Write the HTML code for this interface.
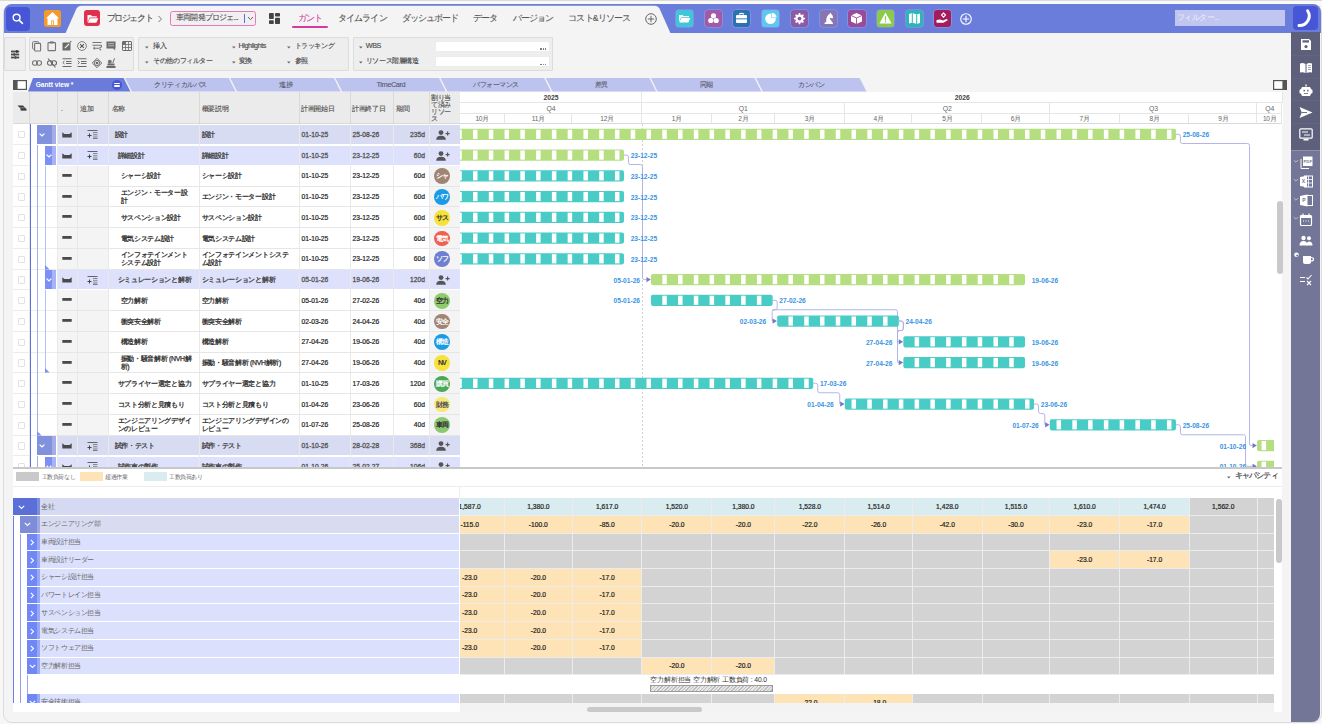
<!DOCTYPE html><html><head><meta charset="utf-8"><style>
*{box-sizing:border-box;margin:0;padding:0}
html,body{width:1322px;height:724px;overflow:hidden}
body{background:#f7f7f7;font-family:"Liberation Sans",sans-serif;position:relative;color:#444}
.a{position:absolute}
.t{position:absolute;white-space:nowrap;line-height:1;transform:translateY(-50%)}
.c{position:absolute;white-space:nowrap;line-height:1;transform:translate(-50%,-50%)}
.r{position:absolute;white-space:nowrap;line-height:1;transform:translate(-100%,-50%)}
svg{position:absolute;overflow:visible}
</style></head><body>
<div class="a" style="left:0.00px;top:0.00px;width:1322.00px;height:1.00px;background:#dadada"></div>
<div class="a" style="left:0.00px;top:1.00px;width:1322.00px;height:3.00px;background:#f9f9f9"></div>
<div class="a" style="left:3.00px;top:4.00px;width:1318.50px;height:718.80px;border:1px solid #dcdcdc;border-radius:9px;background:#f4f4f4"></div>
<div class="a" style="left:3.50px;top:4.00px;width:1317.00px;height:28.50px;background:#6b7ddb;border-radius:8px 8px 0 0"></div>
<svg class="a" style="left:0;top:0" width="1322" height="40"><path d="M65.5,33.2 L76.5,8.5 Q78,5.8 81,5.8 L655,5.8 Q658,5.8 659.5,8.5 L670.5,33.2 Z" fill="#f4f4f4"/></svg>
<div class="a" style="left:6.00px;top:6.50px;width:23.50px;height:24.00px;background:#4656d6;border-radius:4px"></div>
<svg style="left:12px;top:12.5px" width="12" height="12" viewBox="0 0 12 12"><circle cx="4.6" cy="4.6" r="3.4" fill="none" stroke="#fff" stroke-width="1.4"/><line x1="7.1" y1="7.1" x2="10.4" y2="10.4" stroke="#fff" stroke-width="1.6" stroke-linecap="round"/></svg>
<div class="a" style="left:44.00px;top:10.00px;width:16.50px;height:17.00px;background:#f39a2a;border-radius:2.5px"></div>
<svg style="left:44px;top:10px" width="17" height="17" viewBox="0 0 17 17"><path d="M8.5,2 L15,8.2 L13.5,8.2 L13.5,15 L3.5,15 L3.5,8.2 L2,8.2 Z" fill="#fff"/><rect x="7" y="10.5" width="3" height="4.5" fill="#f39a2a"/><rect x="7.8" y="11.3" width="1.4" height="3.7" fill="#fff"/></svg>
<div class="a" style="left:83.70px;top:9.80px;width:16.60px;height:16.70px;background:#e0304e;border-radius:3px"></div>
<svg style="left:85.5px;top:11.5px" width="13" height="13" viewBox="0 0 13 13"><path d="M1.5,3 L5,3 L6,4.2 L10.8,4.2 L10.8,5.6 L3.6,5.6 L1.5,10.5 Z" fill="#fff"/><path d="M3.9,6.3 L12.3,6.3 L10.3,10.8 L1.8,10.8 Z" fill="#fff"/></svg>
<div class="t" style="left:106.60px;top:17.60px;font-size:9px;letter-spacing:-1.4px;color:#555;-webkit-text-stroke:0.15px currentColor">プロジェクト</div>
<svg style="left:157px;top:15px" width="6" height="8" viewBox="0 0 6 8"><path d="M1.5,1 L4.5,4 L1.5,7" fill="none" stroke="#777" stroke-width="1"/></svg>
<div class="a" style="left:169.50px;top:11.00px;width:86.00px;height:14.70px;border:1px solid #e07ab8;border-radius:2.5px;background:#f1eff1"></div>
<div class="t" style="left:176.00px;top:17.80px;font-size:8.2px;letter-spacing:-0.8px;color:#555;-webkit-text-stroke:0.1px currentColor">車両開発プロジェ...</div>
<div class="a" style="left:243.50px;top:13.50px;width:1.00px;height:9.50px;background:#5870d8"></div>
<svg style="left:246.5px;top:15.5px" width="7" height="5" viewBox="0 0 7 5"><path d="M1,1 L3.5,3.6 L6,1" fill="none" stroke="#666" stroke-width="1"/></svg>
<svg style="left:269px;top:13px" width="11" height="11" viewBox="0 0 11 11"><rect x="0" y="0" width="4.8" height="6" rx="0.8" fill="#444"/><rect x="6" y="0" width="5" height="3.6" rx="0.8" fill="#444"/><rect x="0" y="7.2" width="4.8" height="3.8" rx="0.8" fill="#444"/><rect x="6" y="4.8" width="5" height="6.2" rx="0.8" fill="#444"/></svg>
<div class="t" style="left:297.90px;top:18.10px;font-size:8.6px;letter-spacing:-0.9px;color:#d63a9c;-webkit-text-stroke:0.1px currentColor">ガント</div>
<div class="a" style="left:292.00px;top:26.40px;width:35.70px;height:1.90px;background:#d63a9c;border-radius:1px"></div>
<div class="t" style="left:338.00px;top:18.10px;font-size:8.6px;letter-spacing:-0.9px;color:#555;-webkit-text-stroke:0.1px currentColor">タイムライン</div>
<div class="t" style="left:401.80px;top:18.10px;font-size:8.6px;letter-spacing:-0.9px;color:#555;-webkit-text-stroke:0.1px currentColor">ダッシュボード</div>
<div class="t" style="left:473.00px;top:18.10px;font-size:8.6px;letter-spacing:-0.9px;color:#555;-webkit-text-stroke:0.1px currentColor">データ</div>
<div class="t" style="left:512.50px;top:18.10px;font-size:8.6px;letter-spacing:-0.9px;color:#555;-webkit-text-stroke:0.1px currentColor">バージョン</div>
<div class="t" style="left:568.40px;top:18.10px;font-size:8.6px;letter-spacing:-0.9px;color:#555;-webkit-text-stroke:0.1px currentColor">コスト&amp;リソース</div>
<svg style="left:645.3px;top:12.8px" width="12" height="12" viewBox="0 0 12 12"><circle cx="6" cy="6" r="5.3" fill="none" stroke="#666" stroke-width="1"/><path d="M6,2.8 V9.2 M2.8,6 H9.2" stroke="#666" stroke-width="1"/></svg>
<div class="a" style="left:675.5px;top:9.7px;width:17.3px;height:17.3px;background:#40c6da;border-radius:3px;box-shadow:0 0 0 0.6px rgba(255,255,255,.25)"></div>
<svg style="left:675.5px;top:9.7px" width="17" height="17" viewBox="0 0 17 17"><path d="M3,5 L6.5,5 L7.5,6 L13,6 L13,7.2 L5,7.2 L3,12 Z" fill="#fff"/><path d="M5.3,8 L14.2,8 L12.4,12.4 L3.4,12.4 Z" fill="#fff"/></svg>
<div class="a" style="left:704.5px;top:9.7px;width:17.3px;height:17.3px;background:#a25aa6;border-radius:3px;box-shadow:0 0 0 0.6px rgba(255,255,255,.25)"></div>
<svg style="left:704.5px;top:9.7px" width="17" height="17" viewBox="0 0 17 17"><circle cx="8.5" cy="5.8" r="2.6" fill="#fff"/><circle cx="5.8" cy="10.5" r="2.6" fill="#fff"/><circle cx="11.2" cy="10.5" r="2.6" fill="#fff"/></svg>
<div class="a" style="left:733px;top:9.7px;width:17.3px;height:17.3px;background:#2a72b2;border-radius:3px;box-shadow:0 0 0 0.6px rgba(255,255,255,.25)"></div>
<svg style="left:733px;top:9.7px" width="17" height="17" viewBox="0 0 17 17"><path d="M6,4.2 Q8.5,2.6 11,4.2" fill="none" stroke="#fff" stroke-width="1.2"/><rect x="3" y="5" width="11" height="8" rx="1" fill="#fff"/><rect x="3" y="8.4" width="11" height="0.9" fill="#2a72b2"/></svg>
<div class="a" style="left:762px;top:9.7px;width:17.3px;height:17.3px;background:#5cc8f2;border-radius:3px;box-shadow:0 0 0 0.6px rgba(255,255,255,.25)"></div>
<svg style="left:762px;top:9.7px" width="17" height="17" viewBox="0 0 17 17"><circle cx="8.5" cy="8.8" r="5.3" fill="#fff"/><path d="M9.3,3 A5,5 0 0 1 14.3,8 L9.3,8 Z" fill="#5cc8f2"/><path d="M9.8,2.8 A5.3,5.3 0 0 1 14.6,7.6 L9.8,7.6 Z" fill="#fff"/></svg>
<div class="a" style="left:791px;top:9.7px;width:17.3px;height:17.3px;background:#8d5aa6;border-radius:3px;box-shadow:0 0 0 0.6px rgba(255,255,255,.25)"></div>
<svg style="left:791px;top:9.7px" width="17" height="17" viewBox="0 0 17 17"><path d="M12.60,7.68 L14.05,7.87 L14.05,9.33 L12.60,9.52 L12.05,10.85 L12.94,12.01 L11.91,13.04 L10.75,12.15 L9.42,12.70 L9.23,14.15 L7.77,14.15 L7.58,12.70 L6.25,12.15 L5.09,13.04 L4.06,12.01 L4.95,10.85 L4.40,9.52 L2.95,9.33 L2.95,7.87 L4.40,7.68 L4.95,6.35 L4.06,5.19 L5.09,4.16 L6.25,5.05 L7.58,4.50 L7.77,3.05 L9.23,3.05 L9.42,4.50 L10.75,5.05 L11.91,4.16 L12.94,5.19 L12.05,6.35 Z" fill="#fff"/><circle cx="8.5" cy="8.6" r="1.9" fill="#8d5aa6"/></svg>
<div class="a" style="left:819.5px;top:9.7px;width:17.3px;height:17.3px;background:#8876b4;border-radius:3px;box-shadow:0 0 0 0.6px rgba(255,255,255,.25)"></div>
<svg style="left:819.5px;top:9.7px" width="17" height="17" viewBox="0 0 17 17"><path transform="translate(17.5,0) scale(-1,1)" d="M4.5,14 H13 L12.6,12.2 H11.3 Q11.6,9.2 10.6,7 Q9.6,4.6 7.6,3.4 L7.2,2.4 L6.4,3.8 Q4.8,4.8 4.4,7.4 L5.2,8.6 L7.6,7.8 Q8.4,8.6 6.4,10.4 Q5.6,11.2 5.6,12.2 H4.9 Z" fill="#fff"/></svg>
<div class="a" style="left:848.4px;top:9.7px;width:17.3px;height:17.3px;background:#9a4a9a;border-radius:3px;box-shadow:0 0 0 0.6px rgba(255,255,255,.25)"></div>
<svg style="left:848.4px;top:9.7px" width="17" height="17" viewBox="0 0 17 17"><path d="M8.5,3 L14,5.5 L14,11.5 L8.5,14 L3,11.5 L3,5.5 Z" fill="#fff"/><path d="M3,5.5 L8.5,8 L14,5.5 M8.5,8 V14" fill="none" stroke="#9a4a9a" stroke-width="0.9"/></svg>
<div class="a" style="left:877px;top:9.7px;width:17.3px;height:17.3px;background:#8cca4c;border-radius:3px;box-shadow:0 0 0 0.6px rgba(255,255,255,.25)"></div>
<svg style="left:877px;top:9.7px" width="17" height="17" viewBox="0 0 17 17"><path d="M8.5,2.6 L14.6,13.4 L2.4,13.4 Z" fill="#fff"/><rect x="7.9" y="6.2" width="1.2" height="4.2" fill="#8cca4c"/><rect x="7.9" y="11.2" width="1.2" height="1.2" fill="#8cca4c"/></svg>
<div class="a" style="left:905.5px;top:9.7px;width:17.3px;height:17.3px;background:#2db6ba;border-radius:3px;box-shadow:0 0 0 0.6px rgba(255,255,255,.25)"></div>
<svg style="left:905.5px;top:9.7px" width="17" height="17" viewBox="0 0 17 17"><path d="M3,4 L6.3,3 L10.7,4.5 L14,3.5 L14,13 L10.7,14 L6.3,12.5 L3,13.5 Z" fill="#fff"/><path d="M6.3,3 V12.5 M10.7,4.5 V14" stroke="#2db6ba" stroke-width="1"/></svg>
<div class="a" style="left:934px;top:9.7px;width:17.3px;height:17.3px;background:#a31c5c;border-radius:3px;box-shadow:0 0 0 0.6px rgba(255,255,255,.25)"></div>
<svg style="left:934px;top:9.7px" width="17" height="17" viewBox="0 0 17 17"><path d="M2.5,10 L6,9.5 L9,10.5 L12.5,9 L14,10 L9.5,12.8 L2.5,12.8 Z" fill="#fff"/><path d="M9.5,3 L11.5,5 L9.5,7.2 L7.5,5 Z" fill="none" stroke="#fff" stroke-width="1.1"/></svg>
<svg style="left:959.8px;top:12.8px" width="12" height="12" viewBox="0 0 12 12"><circle cx="6" cy="6" r="5.3" fill="none" stroke="#fff" stroke-width="1.1"/><path d="M6,2.8 V9.2 M2.8,6 H9.2" stroke="#fff" stroke-width="1.1"/></svg>
<div class="a" style="left:1175.00px;top:10.40px;width:110.40px;height:15.60px;background:#c0c6f0"></div>
<div class="t" style="left:1177.00px;top:18.40px;font-size:7.8px;letter-spacing:-0.6px;color:#eef0fb">フィルター...</div>
<div class="a" style="left:1293.30px;top:6.00px;width:24.70px;height:24.00px;background:#4656d6;border-radius:4px"></div>
<svg style="left:1296px;top:8.3px" width="20" height="20" viewBox="0 0 20 20"><path d="M11.6,2.8 A9.6,9.6 0 0 1 3,17.6" fill="none" stroke="#fff" stroke-width="3" stroke-linecap="round"/></svg>
<div class="a" style="left:1291.00px;top:32.40px;width:29.00px;height:118.00px;background:#5d5f7b"></div>
<div class="a" style="left:1291.00px;top:150.40px;width:29.00px;height:572.00px;background:#737696;border-radius:0 0 8px 0"></div>
<div class="a" style="left:1291.00px;top:149.60px;width:29.00px;height:1.20px;background:#8e90ac"></div>
<div class="a" style="left:1291.00px;top:54.50px;width:29.00px;height:0.80px;background:#626480"></div>
<div class="a" style="left:1291.00px;top:77.50px;width:29.00px;height:0.80px;background:#626480"></div>
<div class="a" style="left:1291.00px;top:100.00px;width:29.00px;height:0.80px;background:#626480"></div>
<div class="a" style="left:1291.00px;top:122.50px;width:29.00px;height:0.80px;background:#626480"></div>
<svg style="left:1298.5px;top:37.5px" width="14" height="13" viewBox="0 0 14 13"><path d="M2,1 L10,1 L12,3 L12,12 L2,12 Z" fill="#fff"/><rect x="3.5" y="2.3" width="6.5" height="2.2" fill="#5d5f7b"/><circle cx="7" cy="8.6" r="1.6" fill="#5d5f7b"/></svg>
<svg style="left:1298.5px;top:60.5px" width="14" height="13" viewBox="0 0 14 13"><path d="M1,2.5 Q4,1.5 6.5,3 L6.5,12 Q4,10.8 1,11.5 Z" fill="#fff"/><path d="M7.5,3 Q10,1.5 13,2.5 L13,11.5 Q10,10.8 7.5,12 Z" fill="#fff"/><path d="M9,4.5 H11.8 M9,6.5 H11.8 M9,8.5 H11.8" stroke="#5d5f7b" stroke-width="0.6"/></svg>
<svg style="left:1298.5px;top:83.5px" width="14" height="13" viewBox="0 0 14 13"><rect x="6.3" y="0.5" width="1.4" height="2" fill="#fff"/><path d="M3,3 L11,3 L12,5 L13.5,6 L13.5,9 L12,9.8 L11,12 L3,12 L2,9.8 L0.5,9 L0.5,6 L2,5 Z" fill="#fff"/><rect x="4.5" y="5.8" width="1.4" height="1.6" fill="#5d5f7b"/><rect x="8.1" y="5.8" width="1.4" height="1.6" fill="#5d5f7b"/><rect x="5" y="9" width="4" height="0.8" fill="#5d5f7b"/></svg>
<svg style="left:1298.5px;top:106px" width="14" height="13" viewBox="0 0 14 13"><path d="M0.5,1 L13.5,6.5 L0.5,12 L2.8,6.5 Z" fill="#fff"/><path d="M2.8,6.5 H8" stroke="#5d5f7b" stroke-width="0.9"/></svg>
<svg style="left:1298.5px;top:128px" width="14" height="13" viewBox="0 0 14 13"><rect x="0.8" y="0.8" width="12.4" height="9.4" rx="1" fill="none" stroke="#fff" stroke-width="1.2"/><path d="M3,4 H9 M5,7 H11" stroke="#fff" stroke-width="1"/><rect x="4.5" y="11" width="5" height="1.5" fill="#fff"/></svg>
<svg style="left:1298.5px;top:155.5px" width="15" height="13" viewBox="0 0 15 13"><path d="M2,3 V12.5 H10" fill="none" stroke="#fff" stroke-width="1"/><rect x="4" y="0.5" width="9.5" height="9.5" fill="#fff"/><text x="8.75" y="7" font-size="4.2" font-family="Liberation Sans" font-weight="bold" text-anchor="middle" fill="#737696">PDF</text></svg>
<svg style="left:1292.5px;top:158.5px" width="6" height="5" viewBox="0 0 6 5"><path d="M0.8,1 L3,3.2 L5.2,1" fill="none" stroke="#c9cbe0" stroke-width="0.8"/></svg>
<svg style="left:1298.5px;top:175px" width="15" height="13" viewBox="0 0 15 13"><rect x="5.5" y="1" width="8" height="11" fill="none" stroke="#fff" stroke-width="1"/><path d="M5.5,4.5 H13.5 M5.5,8 H13.5 M9.5,1 V12" stroke="#fff" stroke-width="0.8"/><path d="M1,2 L8,0.8 L8,12.2 L1,11 Z" fill="#fff"/><text x="4.5" y="8.3" font-size="5" font-family="Liberation Sans" font-weight="bold" text-anchor="middle" fill="#737696">X</text></svg>
<svg style="left:1292.5px;top:178px" width="6" height="5" viewBox="0 0 6 5"><path d="M0.8,1 L3,3.2 L5.2,1" fill="none" stroke="#c9cbe0" stroke-width="0.8"/></svg>
<svg style="left:1298.5px;top:193.5px" width="15" height="13" viewBox="0 0 15 13"><rect x="6" y="1.5" width="7.5" height="10" fill="none" stroke="#fff" stroke-width="1"/><path d="M1,2 L8.5,0.6 L8.5,12.4 L1,11 Z" fill="#fff"/><text x="4.8" y="8.3" font-size="5" font-family="Liberation Sans" font-weight="bold" text-anchor="middle" fill="#737696">P</text></svg>
<svg style="left:1292.5px;top:196.5px" width="6" height="5" viewBox="0 0 6 5"><path d="M0.8,1 L3,3.2 L5.2,1" fill="none" stroke="#c9cbe0" stroke-width="0.8"/></svg>
<svg style="left:1298.5px;top:213px" width="15" height="13" viewBox="0 0 15 13"><rect x="1.5" y="2.5" width="11" height="10" rx="1" fill="none" stroke="#fff" stroke-width="1.2"/><rect x="1.5" y="2.5" width="11" height="2.5" fill="#fff"/><path d="M4,0.5 V3 M10,0.5 V3" stroke="#fff" stroke-width="1.2"/><path d="M4,8 H5 M6.5,8 H7.5 M9,8 H10" stroke="#fff" stroke-width="1"/></svg>
<svg style="left:1292.5px;top:216px" width="6" height="5" viewBox="0 0 6 5"><path d="M0.8,1 L3,3.2 L5.2,1" fill="none" stroke="#c9cbe0" stroke-width="0.8"/></svg>
<svg style="left:1298.5px;top:235px" width="15" height="13" viewBox="0 0 15 13"><circle cx="4.5" cy="3" r="2.2" fill="#fff"/><circle cx="10" cy="3.3" r="2" fill="#fff"/><path d="M0.5,10.5 Q0.5,6 4.5,6 Q8.5,6 8.5,10.5 Z" fill="#fff"/><path d="M7.5,10.5 Q7.8,6.4 10,6.4 Q13.5,6.4 13.5,10.5 Z" fill="#fff"/></svg>
<svg style="left:1298.5px;top:252px" width="15" height="13" viewBox="0 0 15 13"><path d="M4,4 H12 V10 Q12,12 10,12 H6 Q4,12 4,10 Z" fill="#fff"/><path d="M12,5.5 Q14.5,5.5 14.5,7.3 Q14.5,9 12,9" fill="none" stroke="#fff" stroke-width="1.2"/><circle cx="-2.5" cy="2.8" r="2.3" fill="#fff"/><circle cx="-1.8" cy="3.6" r="1" fill="#737696"/></svg>
<svg style="left:1298.5px;top:274px" width="15" height="13" viewBox="0 0 15 13"><path d="M1,3.5 H6 M1,7.5 H6" stroke="#fff" stroke-width="1.1"/><path d="M7.5,3.5 L9,5 L12.5,1" fill="none" stroke="#fff" stroke-width="1.1"/><path d="M8,7 L12,11 M12,7 L8,11" stroke="#fff" stroke-width="1.1"/></svg>
<div class="a" style="left:3.60px;top:37.30px;width:22.90px;height:34.20px;border:1px solid #dcdcdc;background:#efeeef;border-radius:1px"></div>
<div class="a" style="left:29.20px;top:37.30px;width:104.80px;height:34.10px;border:1px solid #dcdcdc;background:#efeeef;border-radius:1px"></div>
<div class="a" style="left:137.50px;top:37.40px;width:211.80px;height:33.90px;border:1px solid #dcdcdc;background:#efeeef;border-radius:1px"></div>
<div class="a" style="left:352.50px;top:37.40px;width:200.80px;height:33.90px;border:1px solid #dcdcdc;background:#efeeef;border-radius:1px"></div>
<svg style="left:10.8px;top:49.8px" width="9" height="9" viewBox="0 0 9 9"><rect x="0" y="0.6" width="8.2" height="1.8" fill="#4a4a4a"/><rect x="0" y="3.6" width="8.2" height="1.8" fill="#4a4a4a"/><rect x="0" y="6.6" width="8.2" height="1.8" fill="#4a4a4a"/><rect x="5.2" y="0" width="1.4" height="3" fill="#333"/><rect x="2.6" y="3" width="1.4" height="3" fill="#555"/><rect x="3.8" y="6" width="1.4" height="3" fill="#555"/></svg>
<svg style="left:31.700000000000003px;top:40.8px" width="10" height="10" viewBox="0 0 10 10"><rect x="0.6" y="0.6" width="6" height="7.5" rx="0.8" fill="none" stroke="#777" stroke-width="1"/><rect x="2.6" y="2.4" width="6" height="7.6" rx="0.8" fill="#efeeef" stroke="#747474" stroke-width="1.1"/></svg>
<svg style="left:47px;top:40.8px" width="10" height="10" viewBox="0 0 10 10"><rect x="1" y="1.6" width="7.5" height="8" rx="0.6" fill="none" stroke="#747474" stroke-width="1.1"/><rect x="3" y="0.4" width="3.5" height="2" fill="#747474"/></svg>
<svg style="left:61.7px;top:40.8px" width="10" height="10" viewBox="0 0 10 10"><rect x="0.5" y="1.5" width="8" height="8" rx="0.5" fill="#6a6a6a"/><path d="M2.8,7.2 L7,3" stroke="#efeeef" stroke-width="1.2"/><path d="M7.8,1.4 L9.3,0.3" stroke="#6a6a6a" stroke-width="1.1"/></svg>
<svg style="left:76.7px;top:40.8px" width="10" height="10" viewBox="0 0 10 10"><circle cx="5" cy="5" r="4.4" fill="none" stroke="#747474" stroke-width="0.9"/><path d="M3.1,3.1 L6.9,6.9 M6.9,3.1 L3.1,6.9" stroke="#5a5a5a" stroke-width="1.15"/></svg>
<svg style="left:91.7px;top:40.8px" width="10" height="10" viewBox="0 0 10 10"><path d="M0.5,1.5 H9.5 M0.5,4.2 H9.5" stroke="#747474" stroke-width="1.1"/><path d="M9.5,4.2 Q9.8,7.2 6.5,7.2 H1.5" fill="none" stroke="#747474" stroke-width="1.1"/><path d="M3,5.8 L1.3,7.2 L3,8.6" fill="none" stroke="#747474" stroke-width="0.9"/><rect x="7.6" y="8" width="1.6" height="1.3" fill="#747474"/></svg>
<svg style="left:106.3px;top:40.8px" width="10" height="10" viewBox="0 0 10 10"><path d="M0.5,0.5 H9.5 V7.5 H8.8 L9.5,9.5 L7,7.5 H0.5 Z" fill="#6a6a6a"/><rect x="2" y="2.2" width="6" height="1" fill="#bbb"/><rect x="2" y="4.3" width="6" height="1" fill="#bbb"/></svg>
<svg style="left:121.7px;top:40.8px" width="10" height="10" viewBox="0 0 10 10"><rect x="0.5" y="0.5" width="9" height="9" rx="0.6" fill="none" stroke="#6a6a6a" stroke-width="1"/><rect x="0.5" y="0.5" width="3" height="3" fill="#6a6a6a"/><path d="M3.5,0.5 V9.5 M6.5,0.5 V9.5 M0.5,3.5 H9.5 M0.5,6.5 H9.5" stroke="#6a6a6a" stroke-width="0.8"/></svg>
<svg style="left:31.700000000000003px;top:58px" width="10" height="10" viewBox="0 0 10 10"><rect x="0.5" y="2.8" width="5" height="4.4" rx="2.2" fill="none" stroke="#777" stroke-width="1.1"/><rect x="4.5" y="2.8" width="5" height="4.4" rx="2.2" fill="none" stroke="#777" stroke-width="1.1"/></svg>
<svg style="left:47px;top:58px" width="10" height="10" viewBox="0 0 10 10"><rect x="0.5" y="2.8" width="5" height="4.4" rx="2.2" fill="none" stroke="#6a6a6a" stroke-width="1.1"/><rect x="4.5" y="2.8" width="5" height="4.4" rx="2.2" fill="none" stroke="#6a6a6a" stroke-width="1.1"/><path d="M1,0.5 L8.5,9.5" stroke="#6a6a6a" stroke-width="1.1"/></svg>
<svg style="left:61.7px;top:58px" width="10" height="10" viewBox="0 0 10 10"><path d="M0.5,0.8 H9.5 M4,3.5 H9.5 M4,5.5 H9.5 M0.5,8.5 H9.5" stroke="#6a6a6a" stroke-width="1.1"/><path d="M2.5,3 L0.8,4.5 L2.5,6" fill="none" stroke="#6a6a6a" stroke-width="1"/></svg>
<svg style="left:76.7px;top:58px" width="10" height="10" viewBox="0 0 10 10"><path d="M0.5,0.8 H9.5 M4,3.5 H9.5 M4,5.5 H9.5 M0.5,8.5 H9.5" stroke="#6a6a6a" stroke-width="1.1"/><path d="M0.8,3 L2.5,4.5 L0.8,6" fill="none" stroke="#6a6a6a" stroke-width="1"/></svg>
<svg style="left:91.7px;top:58px" width="10" height="10" viewBox="0 0 10 10"><path d="M5,0.3 L9.7,5 L5,9.7 L0.3,5 Z" fill="none" stroke="#6a6a6a" stroke-width="1"/><circle cx="5" cy="5" r="2.6" fill="none" stroke="#6a6a6a" stroke-width="0.9"/><circle cx="5" cy="5" r="1.3" fill="#6a6a6a"/></svg>
<svg style="left:106.3px;top:58px" width="10" height="10" viewBox="0 0 10 10"><rect x="0.5" y="8" width="9" height="2" fill="#6a6a6a"/><rect x="1.5" y="5.5" width="7" height="2" fill="#6a6a6a"/><circle cx="3.8" cy="3.8" r="2" fill="#747474"/><path d="M6.8,5 L8.5,0.3" stroke="#6a6a6a" stroke-width="1"/></svg>
<svg style="left:145.1px;top:46.3px" width="4" height="3" viewBox="0 0 4 3"><path d="M0,0.5 H3.6 L1.8,2.6 Z" fill="#666"/></svg>
<div class="t" style="left:153.30px;top:46.40px;font-size:7.2px;letter-spacing:-0.4px;color:#4a4a4a;-webkit-text-stroke:0.15px currentColor">挿入</div>
<svg style="left:145.1px;top:61.3px" width="4" height="3" viewBox="0 0 4 3"><path d="M0,0.5 H3.6 L1.8,2.6 Z" fill="#666"/></svg>
<div class="t" style="left:153.30px;top:61.40px;font-size:7.2px;letter-spacing:-0.4px;color:#4a4a4a;-webkit-text-stroke:0.15px currentColor">その他のフィルター</div>
<svg style="left:231.7px;top:46.3px" width="4" height="3" viewBox="0 0 4 3"><path d="M0,0.5 H3.6 L1.8,2.6 Z" fill="#666"/></svg>
<div class="t" style="left:238.50px;top:46.40px;font-size:7.2px;letter-spacing:-0.4px;color:#4a4a4a;-webkit-text-stroke:0.15px currentColor">Highlights</div>
<svg style="left:231.7px;top:61.3px" width="4" height="3" viewBox="0 0 4 3"><path d="M0,0.5 H3.6 L1.8,2.6 Z" fill="#666"/></svg>
<div class="t" style="left:238.50px;top:61.40px;font-size:7.2px;letter-spacing:-0.4px;color:#4a4a4a;-webkit-text-stroke:0.15px currentColor">変換</div>
<svg style="left:286.5px;top:46.3px" width="4" height="3" viewBox="0 0 4 3"><path d="M0,0.5 H3.6 L1.8,2.6 Z" fill="#666"/></svg>
<div class="t" style="left:294.70px;top:46.40px;font-size:7.2px;letter-spacing:-0.4px;color:#4a4a4a;-webkit-text-stroke:0.15px currentColor">トラッキング</div>
<svg style="left:286.5px;top:61.3px" width="4" height="3" viewBox="0 0 4 3"><path d="M0,0.5 H3.6 L1.8,2.6 Z" fill="#666"/></svg>
<div class="t" style="left:294.70px;top:61.40px;font-size:7.2px;letter-spacing:-0.4px;color:#4a4a4a;-webkit-text-stroke:0.15px currentColor">参照</div>
<svg style="left:359.3px;top:46.3px" width="4" height="3" viewBox="0 0 4 3"><path d="M0,0.5 H3.6 L1.8,2.6 Z" fill="#666"/></svg>
<div class="t" style="left:365.80px;top:46.40px;font-size:7.2px;letter-spacing:-0.4px;color:#4a4a4a;-webkit-text-stroke:0.15px currentColor">WBS</div>
<svg style="left:359.3px;top:61.3px" width="4" height="3" viewBox="0 0 4 3"><path d="M0,0.5 H3.6 L1.8,2.6 Z" fill="#666"/></svg>
<div class="t" style="left:365.80px;top:61.40px;font-size:7.2px;letter-spacing:-0.4px;color:#4a4a4a;-webkit-text-stroke:0.15px currentColor">リソース階層構造</div>
<div class="a" style="left:434.70px;top:40.80px;width:115.30px;height:11.20px;background:#fff;border:1px solid #ececec"></div>
<div class="a" style="left:434.70px;top:55.80px;width:115.30px;height:11.70px;background:#fff;border:1px solid #ececec"></div>
<div class="a" style="left:540.30px;top:48.40px;width:1.30px;height:1.30px;background:#666;border-radius:50%"></div>
<div class="a" style="left:542.60px;top:48.40px;width:1.30px;height:1.30px;background:#666;border-radius:50%"></div>
<div class="a" style="left:544.90px;top:48.40px;width:1.30px;height:1.30px;background:#666;border-radius:50%"></div>
<div class="a" style="left:540.30px;top:63.60px;width:1.30px;height:1.30px;background:#666;border-radius:50%"></div>
<div class="a" style="left:542.60px;top:63.60px;width:1.30px;height:1.30px;background:#666;border-radius:50%"></div>
<div class="a" style="left:544.90px;top:63.60px;width:1.30px;height:1.30px;background:#666;border-radius:50%"></div>
<svg style="left:13px;top:80px" width="14" height="10" viewBox="0 0 14 10"><rect x="0.6" y="0.6" width="12.8" height="8.8" fill="#fff" stroke="#555" stroke-width="1.2"/><rect x="0.6" y="0.6" width="4" height="8.8" fill="#555"/></svg>
<svg style="left:1273px;top:80px" width="14" height="10" viewBox="0 0 14 10"><rect x="0.6" y="0.6" width="12.8" height="8.8" fill="#fff" stroke="#555" stroke-width="1.2"/><rect x="9.4" y="0.6" width="4" height="8.8" fill="#555"/></svg>
<svg class="a" style="left:0;top:0" width="1322" height="100"><path d="M28,91.6 L33,78 L123.6,78 L130.4,91.6 Z" fill="#6a7bd9"/><path d="M125.10,78 L228.75,78 L235.55,91.6 L131.90,91.6 Z" fill="#bcc3ef"/><path d="M230.25,78 L333.90,78 L340.70,91.6 L237.05,91.6 Z" fill="#bcc3ef"/><path d="M335.40,78 L439.05,78 L445.85,91.6 L342.20,91.6 Z" fill="#bcc3ef"/><path d="M440.55,78 L544.20,78 L551.00,91.6 L447.35,91.6 Z" fill="#bcc3ef"/><path d="M545.70,78 L649.35,78 L656.15,91.6 L552.50,91.6 Z" fill="#bcc3ef"/><path d="M650.85,78 L754.50,78 L761.30,91.6 L657.65,91.6 Z" fill="#bcc3ef"/><path d="M756.00,78 L859.65,78 L866.45,91.6 L762.80,91.6 Z" fill="#bcc3ef"/></svg>
<div class="t" style="left:35.70px;top:84.80px;font-size:6.6px;color:#fff;font-weight:bold">Gantt view *</div>
<div class="a" style="left:112.30px;top:79.80px;width:10.00px;height:10.00px;background:#4656d6;border-radius:50%"></div>
<div class="a" style="left:114.30px;top:82.60px;width:6.00px;height:1.50px;background:#fff;border-radius:1px"></div>
<div class="a" style="left:114.30px;top:85.40px;width:6.00px;height:1.50px;background:#fff;border-radius:1px"></div>
<div class="c" style="left:180.58px;top:84.80px;font-size:7.4px;letter-spacing:-0.45px;color:#5a5a68;-webkit-text-stroke:0.1px currentColor">クリティカルパス</div>
<div class="c" style="left:285.72px;top:84.80px;font-size:7.4px;letter-spacing:-0.45px;color:#5a5a68;-webkit-text-stroke:0.1px currentColor">進捗</div>
<div class="c" style="left:390.87px;top:84.80px;font-size:7.4px;letter-spacing:-0.45px;color:#5a5a68;-webkit-text-stroke:0.1px currentColor">TimeCard</div>
<div class="c" style="left:496.03px;top:84.80px;font-size:7.4px;letter-spacing:-0.45px;color:#5a5a68;-webkit-text-stroke:0.1px currentColor">パフォーマンス</div>
<div class="c" style="left:601.18px;top:84.80px;font-size:7.4px;letter-spacing:-0.45px;color:#5a5a68;-webkit-text-stroke:0.1px currentColor">差異</div>
<div class="c" style="left:706.33px;top:84.80px;font-size:7.4px;letter-spacing:-0.45px;color:#5a5a68;-webkit-text-stroke:0.1px currentColor">同期</div>
<div class="c" style="left:811.48px;top:84.80px;font-size:7.4px;letter-spacing:-0.45px;color:#5a5a68;-webkit-text-stroke:0.1px currentColor">カンバン</div>
<div class="a" style="left:12.70px;top:91.80px;width:1269.80px;height:375.60px;background:#fff"></div>
<div class="a" style="left:12.70px;top:91.80px;width:447.30px;height:32.60px;background:#ebebeb;border-bottom:1px solid #d9d9d9"></div>
<div class="a" style="left:29.20px;top:91.80px;width:0.90px;height:32.60px;background:#d9d9d9"></div>
<div class="a" style="left:57.00px;top:91.80px;width:0.90px;height:32.60px;background:#d9d9d9"></div>
<div class="a" style="left:77.20px;top:91.80px;width:0.90px;height:32.60px;background:#d9d9d9"></div>
<div class="a" style="left:108.40px;top:91.80px;width:0.90px;height:32.60px;background:#d9d9d9"></div>
<div class="a" style="left:199.00px;top:91.80px;width:0.90px;height:32.60px;background:#d9d9d9"></div>
<div class="a" style="left:298.50px;top:91.80px;width:0.90px;height:32.60px;background:#d9d9d9"></div>
<div class="a" style="left:349.70px;top:91.80px;width:0.90px;height:32.60px;background:#d9d9d9"></div>
<div class="a" style="left:393.00px;top:91.80px;width:0.90px;height:32.60px;background:#d9d9d9"></div>
<div class="a" style="left:428.80px;top:91.80px;width:0.90px;height:32.60px;background:#d9d9d9"></div>
<svg style="left:16.5px;top:104.5px" width="10" height="7" viewBox="0 0 10 7"><path d="M0.5,0.6 H6 L7.5,2.2 H2.2 Z" fill="#3a3a3a"/><path d="M2.2,2.2 L3.6,4 H9.5 L8,2.2 Z" fill="#555"/><rect x="3.6" y="4" width="5.9" height="1.6" fill="#3a3a3a"/></svg>
<div class="t" style="left:61.00px;top:108.00px;font-size:7px;letter-spacing:-0.3px;color:#555;-webkit-text-stroke:0.15px currentColor">.</div>
<div class="t" style="left:80.00px;top:107.80px;font-size:7px;letter-spacing:-0.3px;color:#555;-webkit-text-stroke:0.15px currentColor">追加</div>
<div class="t" style="left:111.50px;top:107.80px;font-size:7px;letter-spacing:-0.3px;color:#555;-webkit-text-stroke:0.15px currentColor">名称</div>
<div class="t" style="left:201.50px;top:107.80px;font-size:7px;letter-spacing:-0.3px;color:#555;-webkit-text-stroke:0.15px currentColor">概要説明</div>
<div class="t" style="left:301.00px;top:107.80px;font-size:7px;letter-spacing:-0.3px;color:#555;-webkit-text-stroke:0.15px currentColor">計画開始日</div>
<div class="t" style="left:352.00px;top:107.80px;font-size:7px;letter-spacing:-0.3px;color:#555;-webkit-text-stroke:0.15px currentColor">計画終了日</div>
<div class="t" style="left:396.00px;top:107.80px;font-size:7px;letter-spacing:-0.3px;color:#555;-webkit-text-stroke:0.15px currentColor">期間</div>
<div class="a" style="left:431px;top:93.5px;font-size:6.6px;line-height:7.1px;letter-spacing:-0.3px;color:#555;-webkit-text-stroke:0.15px currentColor;width:22px;word-break:break-all">割り当て済みリソース</div>
<div class="a" style="left:460px;top:91.8px;width:822.5px;height:32.60000000000001px;overflow:hidden;background:#fff">
<div class="a" style="left:0.00px;top:0.00px;width:182.00px;height:11.70px;border-right:1px solid #e6e6e6;border-bottom:1px solid #e6e6e6"></div>
<div class="c" style="left:91.00px;top:5.85px;font-size:6.8px;font-weight:bold;color:#444">2025</div>
<div class="a" style="left:182.00px;top:0.00px;width:640.50px;height:11.70px;border-right:1px solid #e6e6e6;border-bottom:1px solid #e6e6e6"></div>
<div class="c" style="left:502.25px;top:5.85px;font-size:6.8px;font-weight:bold;color:#444">2026</div>
<div class="a" style="left:0.00px;top:11.70px;width:182.00px;height:10.50px;border-right:1px solid #e6e6e6;border-bottom:1px solid #e6e6e6"></div>
<div class="c" style="left:91.00px;top:16.95px;font-size:6.8px;color:#666">Q4</div>
<div class="a" style="left:182.00px;top:11.70px;width:202.77px;height:10.50px;border-right:1px solid #e6e6e6;border-bottom:1px solid #e6e6e6"></div>
<div class="c" style="left:283.38px;top:16.95px;font-size:6.8px;color:#666">Q1</div>
<div class="a" style="left:384.77px;top:11.70px;width:205.02px;height:10.50px;border-right:1px solid #e6e6e6;border-bottom:1px solid #e6e6e6"></div>
<div class="c" style="left:487.28px;top:16.95px;font-size:6.8px;color:#666">Q2</div>
<div class="a" style="left:589.79px;top:11.70px;width:207.28px;height:10.50px;border-right:1px solid #e6e6e6;border-bottom:1px solid #e6e6e6"></div>
<div class="c" style="left:693.43px;top:16.95px;font-size:6.8px;color:#666">Q3</div>
<div class="a" style="left:797.07px;top:11.70px;width:25.43px;height:10.50px;border-right:1px solid #e6e6e6;border-bottom:1px solid #e6e6e6"></div>
<div class="c" style="left:809.78px;top:16.95px;font-size:6.8px;color:#666">Q4</div>
<div class="a" style="left:0.00px;top:22.20px;width:44.57px;height:10.40px;border-right:1px solid #e6e6e6;border-bottom:1px solid #d9d9d9"></div>
<div class="c" style="left:22.28px;top:27.40px;font-size:6.6px;letter-spacing:-0.2px;color:#666">10月</div>
<div class="a" style="left:44.57px;top:22.20px;width:67.59px;height:10.40px;border-right:1px solid #e6e6e6;border-bottom:1px solid #d9d9d9"></div>
<div class="c" style="left:78.36px;top:27.40px;font-size:6.6px;letter-spacing:-0.2px;color:#666">11月</div>
<div class="a" style="left:112.16px;top:22.20px;width:69.84px;height:10.40px;border-right:1px solid #e6e6e6;border-bottom:1px solid #d9d9d9"></div>
<div class="c" style="left:147.08px;top:27.40px;font-size:6.6px;letter-spacing:-0.2px;color:#666">12月</div>
<div class="a" style="left:182.00px;top:22.20px;width:69.84px;height:10.40px;border-right:1px solid #e6e6e6;border-bottom:1px solid #d9d9d9"></div>
<div class="c" style="left:216.92px;top:27.40px;font-size:6.6px;letter-spacing:-0.2px;color:#666">1月</div>
<div class="a" style="left:251.84px;top:22.20px;width:63.08px;height:10.40px;border-right:1px solid #e6e6e6;border-bottom:1px solid #d9d9d9"></div>
<div class="c" style="left:283.38px;top:27.40px;font-size:6.6px;letter-spacing:-0.2px;color:#666">2月</div>
<div class="a" style="left:314.93px;top:22.20px;width:69.84px;height:10.40px;border-right:1px solid #e6e6e6;border-bottom:1px solid #d9d9d9"></div>
<div class="c" style="left:349.85px;top:27.40px;font-size:6.6px;letter-spacing:-0.2px;color:#666">3月</div>
<div class="a" style="left:384.77px;top:22.20px;width:67.59px;height:10.40px;border-right:1px solid #e6e6e6;border-bottom:1px solid #d9d9d9"></div>
<div class="c" style="left:418.57px;top:27.40px;font-size:6.6px;letter-spacing:-0.2px;color:#666">4月</div>
<div class="a" style="left:452.36px;top:22.20px;width:69.84px;height:10.40px;border-right:1px solid #e6e6e6;border-bottom:1px solid #d9d9d9"></div>
<div class="c" style="left:487.28px;top:27.40px;font-size:6.6px;letter-spacing:-0.2px;color:#666">5月</div>
<div class="a" style="left:522.20px;top:22.20px;width:67.59px;height:10.40px;border-right:1px solid #e6e6e6;border-bottom:1px solid #d9d9d9"></div>
<div class="c" style="left:556.00px;top:27.40px;font-size:6.6px;letter-spacing:-0.2px;color:#666">6月</div>
<div class="a" style="left:589.79px;top:22.20px;width:69.84px;height:10.40px;border-right:1px solid #e6e6e6;border-bottom:1px solid #d9d9d9"></div>
<div class="c" style="left:624.71px;top:27.40px;font-size:6.6px;letter-spacing:-0.2px;color:#666">7月</div>
<div class="a" style="left:659.64px;top:22.20px;width:69.84px;height:10.40px;border-right:1px solid #e6e6e6;border-bottom:1px solid #d9d9d9"></div>
<div class="c" style="left:694.56px;top:27.40px;font-size:6.6px;letter-spacing:-0.2px;color:#666">8月</div>
<div class="a" style="left:729.48px;top:22.20px;width:67.59px;height:10.40px;border-right:1px solid #e6e6e6;border-bottom:1px solid #d9d9d9"></div>
<div class="c" style="left:763.27px;top:27.40px;font-size:6.6px;letter-spacing:-0.2px;color:#666">9月</div>
<div class="a" style="left:797.07px;top:22.20px;width:25.43px;height:10.40px;border-right:1px solid #e6e6e6;border-bottom:1px solid #d9d9d9"></div>
<div class="c" style="left:809.78px;top:27.40px;font-size:6.6px;letter-spacing:-0.2px;color:#666">10月</div>
</div>
<div class="a" style="left:0;top:124.4px;width:1322px;height:343.00px;overflow:hidden">
<div class="a" style="left:12.70px;top:0.00px;width:16.00px;height:20.75px;background:#fff;border-bottom:1px solid #ececec"></div>
<div class="a" style="left:18.10px;top:6.78px;width:7.30px;height:7.20px;border:1px solid #e2e2e2;border-radius:1px;background:#fff"></div>
<div class="a" style="left:57.00px;top:0.50px;width:403.00px;height:19.25px;background:#d8dcf3"></div>
<div class="a" style="left:37.30px;top:0.50px;width:15.00px;height:19.25px;background:#8291dd"></div>
<div class="a" style="left:52.30px;top:0.50px;width:3.70px;height:19.25px;background:#a3ade7"></div>
<svg style="left:38.50px;top:8.38px" width="6" height="4" viewBox="0 0 6 4"><path d="M0.6,0.6 L3,3 L5.4,0.6" fill="none" stroke="#fff" stroke-width="1.2"/></svg>
<svg style="left:62px;top:7.38px" width="10" height="6" viewBox="0 0 10 6"><path d="M0.3,0.3 L2.5,2 L7.5,2 L9.7,0.3 L9.7,5.5 L0.3,5.5 Z" fill="#4a4a4a"/></svg>
<svg style="left:87px;top:5.88px" width="11" height="9" viewBox="0 0 11 9"><path d="M0.5,0.5 H10.5" stroke="#555" stroke-width="0.9"/><path d="M0.5,5.5 H4.5 M2.5,3.5 V7.5" stroke="#444" stroke-width="1"/><path d="M6,2.6 H10.5 M6,4.8 H10.5 M6,7 H10.5 M6,8.5 H10.5" stroke="#666" stroke-width="0.8"/></svg>
<svg style="left:435.5px;top:5.38px" width="14" height="10" viewBox="0 0 14 10"><circle cx="5" cy="2.6" r="2.4" fill="#555"/><path d="M0.2,9.8 Q0.2,5.8 5,5.8 Q9.8,5.8 9.8,9.8 Z" fill="#555"/><path d="M11.6,1.6 V5.6 M9.6,3.6 H13.6" stroke="#555" stroke-width="1.1"/></svg>
<div class="a" style="left:29.20px;top:0.00px;width:0.90px;height:20.75px;background:#e9e9e9"></div>
<div class="a" style="left:57.00px;top:0.00px;width:0.90px;height:20.75px;background:#e9e9e9"></div>
<div class="a" style="left:77.20px;top:0.00px;width:0.90px;height:20.75px;background:#e9e9e9"></div>
<div class="a" style="left:108.40px;top:0.00px;width:0.90px;height:20.75px;background:#e9e9e9"></div>
<div class="a" style="left:199.00px;top:0.00px;width:0.90px;height:20.75px;background:#e9e9e9"></div>
<div class="a" style="left:298.50px;top:0.00px;width:0.90px;height:20.75px;background:#e9e9e9"></div>
<div class="a" style="left:349.70px;top:0.00px;width:0.90px;height:20.75px;background:#e9e9e9"></div>
<div class="a" style="left:393.00px;top:0.00px;width:0.90px;height:20.75px;background:#e9e9e9"></div>
<div class="a" style="left:428.80px;top:0.00px;width:0.90px;height:20.75px;background:#e9e9e9"></div>
<div class="t" style="left:114.50px;top:10.38px;font-size:6.9px;letter-spacing:-0.3px;-webkit-text-stroke:0.25px currentColor;color:#444;-webkit-text-stroke:0.3px currentColor;">設計</div>
<div class="t" style="left:201.50px;top:10.38px;font-size:6.9px;letter-spacing:-0.3px;-webkit-text-stroke:0.25px currentColor;color:#444;-webkit-text-stroke:0.3px currentColor;">設計</div>
<div class="t" style="left:301.50px;top:10.38px;font-size:6.7px;color:#555;-webkit-text-stroke:0.3px currentColor;">01-10-25</div>
<div class="t" style="left:352.50px;top:10.38px;font-size:6.7px;color:#555;-webkit-text-stroke:0.3px currentColor;">25-08-26</div>
<div class="r" style="left:425.00px;top:10.38px;font-size:6.7px;color:#555;-webkit-text-stroke:0.3px currentColor;">235d</div>
<div class="a" style="left:12.70px;top:20.75px;width:16.00px;height:20.75px;background:#fff;border-bottom:1px solid #ececec"></div>
<div class="a" style="left:18.10px;top:27.53px;width:7.30px;height:7.20px;border:1px solid #e2e2e2;border-radius:1px;background:#fff"></div>
<div class="a" style="left:57.00px;top:21.25px;width:403.00px;height:19.25px;background:#dde1fc"></div>
<div class="a" style="left:45.00px;top:21.25px;width:7.30px;height:19.25px;background:#7b8ff5"></div>
<div class="a" style="left:52.30px;top:21.25px;width:3.70px;height:19.25px;background:#a6b3f8"></div>
<svg style="left:45.60px;top:29.12px" width="6" height="4" viewBox="0 0 6 4"><path d="M0.6,0.6 L3,3 L5.4,0.6" fill="none" stroke="#fff" stroke-width="1.2"/></svg>
<svg style="left:62px;top:28.12px" width="10" height="6" viewBox="0 0 10 6"><path d="M0.3,0.3 L2.5,2 L7.5,2 L9.7,0.3 L9.7,5.5 L0.3,5.5 Z" fill="#4a4a4a"/></svg>
<svg style="left:87px;top:26.62px" width="11" height="9" viewBox="0 0 11 9"><path d="M0.5,0.5 H10.5" stroke="#555" stroke-width="0.9"/><path d="M0.5,5.5 H4.5 M2.5,3.5 V7.5" stroke="#444" stroke-width="1"/><path d="M6,2.6 H10.5 M6,4.8 H10.5 M6,7 H10.5 M6,8.5 H10.5" stroke="#666" stroke-width="0.8"/></svg>
<svg style="left:435.5px;top:26.12px" width="14" height="10" viewBox="0 0 14 10"><circle cx="5" cy="2.6" r="2.4" fill="#555"/><path d="M0.2,9.8 Q0.2,5.8 5,5.8 Q9.8,5.8 9.8,9.8 Z" fill="#555"/><path d="M11.6,1.6 V5.6 M9.6,3.6 H13.6" stroke="#555" stroke-width="1.1"/></svg>
<div class="a" style="left:29.20px;top:20.75px;width:0.90px;height:20.75px;background:#e9e9e9"></div>
<div class="a" style="left:57.00px;top:20.75px;width:0.90px;height:20.75px;background:#e9e9e9"></div>
<div class="a" style="left:77.20px;top:20.75px;width:0.90px;height:20.75px;background:#e9e9e9"></div>
<div class="a" style="left:108.40px;top:20.75px;width:0.90px;height:20.75px;background:#e9e9e9"></div>
<div class="a" style="left:199.00px;top:20.75px;width:0.90px;height:20.75px;background:#e9e9e9"></div>
<div class="a" style="left:298.50px;top:20.75px;width:0.90px;height:20.75px;background:#e9e9e9"></div>
<div class="a" style="left:349.70px;top:20.75px;width:0.90px;height:20.75px;background:#e9e9e9"></div>
<div class="a" style="left:393.00px;top:20.75px;width:0.90px;height:20.75px;background:#e9e9e9"></div>
<div class="a" style="left:428.80px;top:20.75px;width:0.90px;height:20.75px;background:#e9e9e9"></div>
<div class="t" style="left:117.50px;top:31.12px;font-size:6.9px;letter-spacing:-0.3px;-webkit-text-stroke:0.25px currentColor;color:#444;-webkit-text-stroke:0.3px currentColor;">詳細設計</div>
<div class="t" style="left:201.50px;top:31.12px;font-size:6.9px;letter-spacing:-0.3px;-webkit-text-stroke:0.25px currentColor;color:#444;-webkit-text-stroke:0.3px currentColor;">詳細設計</div>
<div class="t" style="left:301.50px;top:31.12px;font-size:6.7px;color:#555;-webkit-text-stroke:0.3px currentColor;">01-10-25</div>
<div class="t" style="left:352.50px;top:31.12px;font-size:6.7px;color:#555;-webkit-text-stroke:0.3px currentColor;">23-12-25</div>
<div class="r" style="left:425.00px;top:31.12px;font-size:6.7px;color:#555;-webkit-text-stroke:0.3px currentColor;">60d</div>
<div class="a" style="left:12.70px;top:41.50px;width:16.00px;height:20.75px;background:#fff;border-bottom:1px solid #ececec"></div>
<div class="a" style="left:18.10px;top:48.28px;width:7.30px;height:7.20px;border:1px solid #e2e2e2;border-radius:1px;background:#fff"></div>
<div class="a" style="left:57.00px;top:41.50px;width:51.40px;height:20.75px;background:#f4f4f4;border-bottom:1px solid #e6e6e6"></div>
<div class="a" style="left:108.40px;top:41.50px;width:320.40px;height:20.75px;background:#fff;border-bottom:1px solid #e6e6e6"></div>
<div class="a" style="left:428.80px;top:41.50px;width:31.20px;height:20.75px;background:#f4f4f4;border-bottom:1px solid #e6e6e6"></div>
<svg style="left:62px;top:49.58px" width="10" height="3" viewBox="0 0 10 3"><rect x="0.3" y="0" width="9.4" height="2.8" fill="#4a4a4a"/></svg>
<div class="a" style="left:29.00px;top:61.25px;width:28.00px;height:1.00px;background:#ececec"></div>
<div class="a" style="left:433.90px;top:43.97px;width:15.80px;height:15.80px;background:#a08474;border-radius:50%"></div>
<div class="c" style="left:441.80px;top:51.88px;font-size:7.2px;letter-spacing:-1.2px;color:#fff;font-weight:bold">シャ</div>
<div class="a" style="left:29.20px;top:41.50px;width:0.90px;height:20.75px;background:#e9e9e9"></div>
<div class="a" style="left:57.00px;top:41.50px;width:0.90px;height:20.75px;background:#e9e9e9"></div>
<div class="a" style="left:77.20px;top:41.50px;width:0.90px;height:20.75px;background:#e9e9e9"></div>
<div class="a" style="left:108.40px;top:41.50px;width:0.90px;height:20.75px;background:#e9e9e9"></div>
<div class="a" style="left:199.00px;top:41.50px;width:0.90px;height:20.75px;background:#e9e9e9"></div>
<div class="a" style="left:298.50px;top:41.50px;width:0.90px;height:20.75px;background:#e9e9e9"></div>
<div class="a" style="left:349.70px;top:41.50px;width:0.90px;height:20.75px;background:#e9e9e9"></div>
<div class="a" style="left:393.00px;top:41.50px;width:0.90px;height:20.75px;background:#e9e9e9"></div>
<div class="a" style="left:428.80px;top:41.50px;width:0.90px;height:20.75px;background:#e9e9e9"></div>
<div class="t" style="left:120.50px;top:51.88px;font-size:6.9px;letter-spacing:-0.3px;-webkit-text-stroke:0.25px currentColor;color:#2a2a2a;">シャーシ設計</div>
<div class="t" style="left:201.50px;top:51.88px;font-size:6.9px;letter-spacing:-0.3px;-webkit-text-stroke:0.25px currentColor;color:#2a2a2a;">シャーシ設計</div>
<div class="t" style="left:301.50px;top:51.88px;font-size:6.7px;color:#222;-webkit-text-stroke:0.2px currentColor;">01-10-25</div>
<div class="t" style="left:352.50px;top:51.88px;font-size:6.7px;color:#222;-webkit-text-stroke:0.2px currentColor;">23-12-25</div>
<div class="r" style="left:425.00px;top:51.88px;font-size:6.7px;color:#222;-webkit-text-stroke:0.2px currentColor;">60d</div>
<div class="a" style="left:12.70px;top:62.25px;width:16.00px;height:20.75px;background:#fff;border-bottom:1px solid #ececec"></div>
<div class="a" style="left:18.10px;top:69.03px;width:7.30px;height:7.20px;border:1px solid #e2e2e2;border-radius:1px;background:#fff"></div>
<div class="a" style="left:57.00px;top:62.25px;width:51.40px;height:20.75px;background:#f4f4f4;border-bottom:1px solid #e6e6e6"></div>
<div class="a" style="left:108.40px;top:62.25px;width:320.40px;height:20.75px;background:#fff;border-bottom:1px solid #e6e6e6"></div>
<div class="a" style="left:428.80px;top:62.25px;width:31.20px;height:20.75px;background:#f4f4f4;border-bottom:1px solid #e6e6e6"></div>
<svg style="left:62px;top:70.33px" width="10" height="3" viewBox="0 0 10 3"><rect x="0.3" y="0" width="9.4" height="2.8" fill="#4a4a4a"/></svg>
<div class="a" style="left:29.00px;top:82.00px;width:28.00px;height:1.00px;background:#ececec"></div>
<div class="a" style="left:433.90px;top:64.72px;width:15.80px;height:15.80px;background:#1a9be6;border-radius:50%"></div>
<div class="c" style="left:441.80px;top:72.62px;font-size:7.2px;letter-spacing:-1.2px;color:#fff;font-weight:bold">パワ</div>
<div class="a" style="left:29.20px;top:62.25px;width:0.90px;height:20.75px;background:#e9e9e9"></div>
<div class="a" style="left:57.00px;top:62.25px;width:0.90px;height:20.75px;background:#e9e9e9"></div>
<div class="a" style="left:77.20px;top:62.25px;width:0.90px;height:20.75px;background:#e9e9e9"></div>
<div class="a" style="left:108.40px;top:62.25px;width:0.90px;height:20.75px;background:#e9e9e9"></div>
<div class="a" style="left:199.00px;top:62.25px;width:0.90px;height:20.75px;background:#e9e9e9"></div>
<div class="a" style="left:298.50px;top:62.25px;width:0.90px;height:20.75px;background:#e9e9e9"></div>
<div class="a" style="left:349.70px;top:62.25px;width:0.90px;height:20.75px;background:#e9e9e9"></div>
<div class="a" style="left:393.00px;top:62.25px;width:0.90px;height:20.75px;background:#e9e9e9"></div>
<div class="a" style="left:428.80px;top:62.25px;width:0.90px;height:20.75px;background:#e9e9e9"></div>
<div class="a" style="left:120.5px;top:64.83px;font-size:6.9px;letter-spacing:-0.3px;-webkit-text-stroke:0.25px currentColor;color:#2a2a2a;line-height:7.8px;white-space:nowrap">エンジン・モーター設<br>計</div>
<div class="t" style="left:201.50px;top:72.62px;font-size:6.9px;letter-spacing:-0.3px;-webkit-text-stroke:0.25px currentColor;color:#2a2a2a;">エンジン・モーター設計</div>
<div class="t" style="left:301.50px;top:72.62px;font-size:6.7px;color:#222;-webkit-text-stroke:0.2px currentColor;">01-10-25</div>
<div class="t" style="left:352.50px;top:72.62px;font-size:6.7px;color:#222;-webkit-text-stroke:0.2px currentColor;">23-12-25</div>
<div class="r" style="left:425.00px;top:72.62px;font-size:6.7px;color:#222;-webkit-text-stroke:0.2px currentColor;">60d</div>
<div class="a" style="left:12.70px;top:83.00px;width:16.00px;height:20.75px;background:#fff;border-bottom:1px solid #ececec"></div>
<div class="a" style="left:18.10px;top:89.78px;width:7.30px;height:7.20px;border:1px solid #e2e2e2;border-radius:1px;background:#fff"></div>
<div class="a" style="left:57.00px;top:83.00px;width:51.40px;height:20.75px;background:#f4f4f4;border-bottom:1px solid #e6e6e6"></div>
<div class="a" style="left:108.40px;top:83.00px;width:320.40px;height:20.75px;background:#fff;border-bottom:1px solid #e6e6e6"></div>
<div class="a" style="left:428.80px;top:83.00px;width:31.20px;height:20.75px;background:#f4f4f4;border-bottom:1px solid #e6e6e6"></div>
<svg style="left:62px;top:91.08px" width="10" height="3" viewBox="0 0 10 3"><rect x="0.3" y="0" width="9.4" height="2.8" fill="#4a4a4a"/></svg>
<div class="a" style="left:29.00px;top:102.75px;width:28.00px;height:1.00px;background:#ececec"></div>
<div class="a" style="left:433.90px;top:85.47px;width:15.80px;height:15.80px;background:#f6e23a;border-radius:50%"></div>
<div class="c" style="left:441.80px;top:93.38px;font-size:7.2px;letter-spacing:-1.2px;color:#333;font-weight:bold">サス</div>
<div class="a" style="left:29.20px;top:83.00px;width:0.90px;height:20.75px;background:#e9e9e9"></div>
<div class="a" style="left:57.00px;top:83.00px;width:0.90px;height:20.75px;background:#e9e9e9"></div>
<div class="a" style="left:77.20px;top:83.00px;width:0.90px;height:20.75px;background:#e9e9e9"></div>
<div class="a" style="left:108.40px;top:83.00px;width:0.90px;height:20.75px;background:#e9e9e9"></div>
<div class="a" style="left:199.00px;top:83.00px;width:0.90px;height:20.75px;background:#e9e9e9"></div>
<div class="a" style="left:298.50px;top:83.00px;width:0.90px;height:20.75px;background:#e9e9e9"></div>
<div class="a" style="left:349.70px;top:83.00px;width:0.90px;height:20.75px;background:#e9e9e9"></div>
<div class="a" style="left:393.00px;top:83.00px;width:0.90px;height:20.75px;background:#e9e9e9"></div>
<div class="a" style="left:428.80px;top:83.00px;width:0.90px;height:20.75px;background:#e9e9e9"></div>
<div class="t" style="left:120.50px;top:93.38px;font-size:6.9px;letter-spacing:-0.3px;-webkit-text-stroke:0.25px currentColor;color:#2a2a2a;">サスペンション設計</div>
<div class="t" style="left:201.50px;top:93.38px;font-size:6.9px;letter-spacing:-0.3px;-webkit-text-stroke:0.25px currentColor;color:#2a2a2a;">サスペンション設計</div>
<div class="t" style="left:301.50px;top:93.38px;font-size:6.7px;color:#222;-webkit-text-stroke:0.2px currentColor;">01-10-25</div>
<div class="t" style="left:352.50px;top:93.38px;font-size:6.7px;color:#222;-webkit-text-stroke:0.2px currentColor;">23-12-25</div>
<div class="r" style="left:425.00px;top:93.38px;font-size:6.7px;color:#222;-webkit-text-stroke:0.2px currentColor;">60d</div>
<div class="a" style="left:12.70px;top:103.75px;width:16.00px;height:20.75px;background:#fff;border-bottom:1px solid #ececec"></div>
<div class="a" style="left:18.10px;top:110.53px;width:7.30px;height:7.20px;border:1px solid #e2e2e2;border-radius:1px;background:#fff"></div>
<div class="a" style="left:57.00px;top:103.75px;width:51.40px;height:20.75px;background:#f4f4f4;border-bottom:1px solid #e6e6e6"></div>
<div class="a" style="left:108.40px;top:103.75px;width:320.40px;height:20.75px;background:#fff;border-bottom:1px solid #e6e6e6"></div>
<div class="a" style="left:428.80px;top:103.75px;width:31.20px;height:20.75px;background:#f4f4f4;border-bottom:1px solid #e6e6e6"></div>
<svg style="left:62px;top:111.83px" width="10" height="3" viewBox="0 0 10 3"><rect x="0.3" y="0" width="9.4" height="2.8" fill="#4a4a4a"/></svg>
<div class="a" style="left:29.00px;top:123.50px;width:28.00px;height:1.00px;background:#ececec"></div>
<div class="a" style="left:433.90px;top:106.22px;width:15.80px;height:15.80px;background:#f0604e;border-radius:50%"></div>
<div class="c" style="left:441.80px;top:114.12px;font-size:7.2px;letter-spacing:-1.2px;color:#fff;font-weight:bold">電気</div>
<div class="a" style="left:29.20px;top:103.75px;width:0.90px;height:20.75px;background:#e9e9e9"></div>
<div class="a" style="left:57.00px;top:103.75px;width:0.90px;height:20.75px;background:#e9e9e9"></div>
<div class="a" style="left:77.20px;top:103.75px;width:0.90px;height:20.75px;background:#e9e9e9"></div>
<div class="a" style="left:108.40px;top:103.75px;width:0.90px;height:20.75px;background:#e9e9e9"></div>
<div class="a" style="left:199.00px;top:103.75px;width:0.90px;height:20.75px;background:#e9e9e9"></div>
<div class="a" style="left:298.50px;top:103.75px;width:0.90px;height:20.75px;background:#e9e9e9"></div>
<div class="a" style="left:349.70px;top:103.75px;width:0.90px;height:20.75px;background:#e9e9e9"></div>
<div class="a" style="left:393.00px;top:103.75px;width:0.90px;height:20.75px;background:#e9e9e9"></div>
<div class="a" style="left:428.80px;top:103.75px;width:0.90px;height:20.75px;background:#e9e9e9"></div>
<div class="t" style="left:120.50px;top:114.12px;font-size:6.9px;letter-spacing:-0.3px;-webkit-text-stroke:0.25px currentColor;color:#2a2a2a;">電気システム設計</div>
<div class="t" style="left:201.50px;top:114.12px;font-size:6.9px;letter-spacing:-0.3px;-webkit-text-stroke:0.25px currentColor;color:#2a2a2a;">電気システム設計</div>
<div class="t" style="left:301.50px;top:114.12px;font-size:6.7px;color:#222;-webkit-text-stroke:0.2px currentColor;">01-10-25</div>
<div class="t" style="left:352.50px;top:114.12px;font-size:6.7px;color:#222;-webkit-text-stroke:0.2px currentColor;">23-12-25</div>
<div class="r" style="left:425.00px;top:114.12px;font-size:6.7px;color:#222;-webkit-text-stroke:0.2px currentColor;">60d</div>
<div class="a" style="left:12.70px;top:124.50px;width:16.00px;height:20.75px;background:#fff;border-bottom:1px solid #ececec"></div>
<div class="a" style="left:18.10px;top:131.27px;width:7.30px;height:7.20px;border:1px solid #e2e2e2;border-radius:1px;background:#fff"></div>
<div class="a" style="left:57.00px;top:124.50px;width:51.40px;height:20.75px;background:#f4f4f4;border-bottom:1px solid #e6e6e6"></div>
<div class="a" style="left:108.40px;top:124.50px;width:320.40px;height:20.75px;background:#fff;border-bottom:1px solid #e6e6e6"></div>
<div class="a" style="left:428.80px;top:124.50px;width:31.20px;height:20.75px;background:#f4f4f4;border-bottom:1px solid #e6e6e6"></div>
<svg style="left:62px;top:132.57px" width="10" height="3" viewBox="0 0 10 3"><rect x="0.3" y="0" width="9.4" height="2.8" fill="#4a4a4a"/></svg>
<div class="a" style="left:29.00px;top:144.25px;width:28.00px;height:1.00px;background:#ececec"></div>
<div class="a" style="left:433.90px;top:126.97px;width:15.80px;height:15.80px;background:#6f7fd2;border-radius:50%"></div>
<div class="c" style="left:441.80px;top:134.87px;font-size:7.2px;letter-spacing:-1.2px;color:#fff;font-weight:bold">ソフ</div>
<div class="a" style="left:29.20px;top:124.50px;width:0.90px;height:20.75px;background:#e9e9e9"></div>
<div class="a" style="left:57.00px;top:124.50px;width:0.90px;height:20.75px;background:#e9e9e9"></div>
<div class="a" style="left:77.20px;top:124.50px;width:0.90px;height:20.75px;background:#e9e9e9"></div>
<div class="a" style="left:108.40px;top:124.50px;width:0.90px;height:20.75px;background:#e9e9e9"></div>
<div class="a" style="left:199.00px;top:124.50px;width:0.90px;height:20.75px;background:#e9e9e9"></div>
<div class="a" style="left:298.50px;top:124.50px;width:0.90px;height:20.75px;background:#e9e9e9"></div>
<div class="a" style="left:349.70px;top:124.50px;width:0.90px;height:20.75px;background:#e9e9e9"></div>
<div class="a" style="left:393.00px;top:124.50px;width:0.90px;height:20.75px;background:#e9e9e9"></div>
<div class="a" style="left:428.80px;top:124.50px;width:0.90px;height:20.75px;background:#e9e9e9"></div>
<div class="a" style="left:120.5px;top:127.07px;font-size:6.9px;letter-spacing:-0.3px;-webkit-text-stroke:0.25px currentColor;color:#2a2a2a;line-height:7.8px;white-space:nowrap">インフォテインメント<br>システム設計</div>
<div class="a" style="left:201.5px;top:127.07px;font-size:6.9px;letter-spacing:-0.3px;-webkit-text-stroke:0.25px currentColor;color:#2a2a2a;line-height:7.8px;white-space:nowrap">インフォテインメントシステ<br>ム設計</div>
<div class="t" style="left:301.50px;top:134.87px;font-size:6.7px;color:#222;-webkit-text-stroke:0.2px currentColor;">01-10-25</div>
<div class="t" style="left:352.50px;top:134.87px;font-size:6.7px;color:#222;-webkit-text-stroke:0.2px currentColor;">23-12-25</div>
<div class="r" style="left:425.00px;top:134.87px;font-size:6.7px;color:#222;-webkit-text-stroke:0.2px currentColor;">60d</div>
<div class="a" style="left:12.70px;top:145.25px;width:16.00px;height:20.75px;background:#fff;border-bottom:1px solid #ececec"></div>
<div class="a" style="left:18.10px;top:152.02px;width:7.30px;height:7.20px;border:1px solid #e2e2e2;border-radius:1px;background:#fff"></div>
<div class="a" style="left:57.00px;top:145.75px;width:403.00px;height:19.25px;background:#dde1fc"></div>
<div class="a" style="left:45.00px;top:145.75px;width:7.30px;height:19.25px;background:#7b8ff5"></div>
<div class="a" style="left:52.30px;top:145.75px;width:3.70px;height:19.25px;background:#a6b3f8"></div>
<svg style="left:45.60px;top:153.62px" width="6" height="4" viewBox="0 0 6 4"><path d="M0.6,0.6 L3,3 L5.4,0.6" fill="none" stroke="#fff" stroke-width="1.2"/></svg>
<svg style="left:62px;top:152.62px" width="10" height="6" viewBox="0 0 10 6"><path d="M0.3,0.3 L2.5,2 L7.5,2 L9.7,0.3 L9.7,5.5 L0.3,5.5 Z" fill="#4a4a4a"/></svg>
<svg style="left:87px;top:151.12px" width="11" height="9" viewBox="0 0 11 9"><path d="M0.5,0.5 H10.5" stroke="#555" stroke-width="0.9"/><path d="M0.5,5.5 H4.5 M2.5,3.5 V7.5" stroke="#444" stroke-width="1"/><path d="M6,2.6 H10.5 M6,4.8 H10.5 M6,7 H10.5 M6,8.5 H10.5" stroke="#666" stroke-width="0.8"/></svg>
<svg style="left:435.5px;top:150.62px" width="14" height="10" viewBox="0 0 14 10"><circle cx="5" cy="2.6" r="2.4" fill="#555"/><path d="M0.2,9.8 Q0.2,5.8 5,5.8 Q9.8,5.8 9.8,9.8 Z" fill="#555"/><path d="M11.6,1.6 V5.6 M9.6,3.6 H13.6" stroke="#555" stroke-width="1.1"/></svg>
<div class="a" style="left:29.20px;top:145.25px;width:0.90px;height:20.75px;background:#e9e9e9"></div>
<div class="a" style="left:57.00px;top:145.25px;width:0.90px;height:20.75px;background:#e9e9e9"></div>
<div class="a" style="left:77.20px;top:145.25px;width:0.90px;height:20.75px;background:#e9e9e9"></div>
<div class="a" style="left:108.40px;top:145.25px;width:0.90px;height:20.75px;background:#e9e9e9"></div>
<div class="a" style="left:199.00px;top:145.25px;width:0.90px;height:20.75px;background:#e9e9e9"></div>
<div class="a" style="left:298.50px;top:145.25px;width:0.90px;height:20.75px;background:#e9e9e9"></div>
<div class="a" style="left:349.70px;top:145.25px;width:0.90px;height:20.75px;background:#e9e9e9"></div>
<div class="a" style="left:393.00px;top:145.25px;width:0.90px;height:20.75px;background:#e9e9e9"></div>
<div class="a" style="left:428.80px;top:145.25px;width:0.90px;height:20.75px;background:#e9e9e9"></div>
<div class="t" style="left:117.50px;top:155.62px;font-size:6.9px;letter-spacing:-0.3px;-webkit-text-stroke:0.25px currentColor;color:#444;-webkit-text-stroke:0.3px currentColor;">シミュレーションと解析</div>
<div class="t" style="left:201.50px;top:155.62px;font-size:6.9px;letter-spacing:-0.3px;-webkit-text-stroke:0.25px currentColor;color:#444;-webkit-text-stroke:0.3px currentColor;">シミュレーションと解析</div>
<div class="t" style="left:301.50px;top:155.62px;font-size:6.7px;color:#555;-webkit-text-stroke:0.3px currentColor;">05-01-26</div>
<div class="t" style="left:352.50px;top:155.62px;font-size:6.7px;color:#555;-webkit-text-stroke:0.3px currentColor;">19-06-26</div>
<div class="r" style="left:425.00px;top:155.62px;font-size:6.7px;color:#555;-webkit-text-stroke:0.3px currentColor;">120d</div>
<div class="a" style="left:12.70px;top:166.00px;width:16.00px;height:20.75px;background:#fff;border-bottom:1px solid #ececec"></div>
<div class="a" style="left:18.10px;top:172.77px;width:7.30px;height:7.20px;border:1px solid #e2e2e2;border-radius:1px;background:#fff"></div>
<div class="a" style="left:57.00px;top:166.00px;width:51.40px;height:20.75px;background:#f4f4f4;border-bottom:1px solid #e6e6e6"></div>
<div class="a" style="left:108.40px;top:166.00px;width:320.40px;height:20.75px;background:#fff;border-bottom:1px solid #e6e6e6"></div>
<div class="a" style="left:428.80px;top:166.00px;width:31.20px;height:20.75px;background:#f4f4f4;border-bottom:1px solid #e6e6e6"></div>
<svg style="left:62px;top:174.07px" width="10" height="3" viewBox="0 0 10 3"><rect x="0.3" y="0" width="9.4" height="2.8" fill="#4a4a4a"/></svg>
<div class="a" style="left:29.00px;top:185.75px;width:28.00px;height:1.00px;background:#ececec"></div>
<div class="a" style="left:433.90px;top:168.47px;width:15.80px;height:15.80px;background:#8fca6e;border-radius:50%"></div>
<div class="c" style="left:441.80px;top:176.37px;font-size:7.2px;letter-spacing:-1.2px;color:#333;font-weight:bold">空力</div>
<div class="a" style="left:29.20px;top:166.00px;width:0.90px;height:20.75px;background:#e9e9e9"></div>
<div class="a" style="left:57.00px;top:166.00px;width:0.90px;height:20.75px;background:#e9e9e9"></div>
<div class="a" style="left:77.20px;top:166.00px;width:0.90px;height:20.75px;background:#e9e9e9"></div>
<div class="a" style="left:108.40px;top:166.00px;width:0.90px;height:20.75px;background:#e9e9e9"></div>
<div class="a" style="left:199.00px;top:166.00px;width:0.90px;height:20.75px;background:#e9e9e9"></div>
<div class="a" style="left:298.50px;top:166.00px;width:0.90px;height:20.75px;background:#e9e9e9"></div>
<div class="a" style="left:349.70px;top:166.00px;width:0.90px;height:20.75px;background:#e9e9e9"></div>
<div class="a" style="left:393.00px;top:166.00px;width:0.90px;height:20.75px;background:#e9e9e9"></div>
<div class="a" style="left:428.80px;top:166.00px;width:0.90px;height:20.75px;background:#e9e9e9"></div>
<div class="t" style="left:120.50px;top:176.37px;font-size:6.9px;letter-spacing:-0.3px;-webkit-text-stroke:0.25px currentColor;color:#2a2a2a;">空力解析</div>
<div class="t" style="left:201.50px;top:176.37px;font-size:6.9px;letter-spacing:-0.3px;-webkit-text-stroke:0.25px currentColor;color:#2a2a2a;">空力解析</div>
<div class="t" style="left:301.50px;top:176.37px;font-size:6.7px;color:#222;-webkit-text-stroke:0.2px currentColor;">05-01-26</div>
<div class="t" style="left:352.50px;top:176.37px;font-size:6.7px;color:#222;-webkit-text-stroke:0.2px currentColor;">27-02-26</div>
<div class="r" style="left:425.00px;top:176.37px;font-size:6.7px;color:#222;-webkit-text-stroke:0.2px currentColor;">40d</div>
<div class="a" style="left:12.70px;top:186.75px;width:16.00px;height:20.75px;background:#fff;border-bottom:1px solid #ececec"></div>
<div class="a" style="left:18.10px;top:193.52px;width:7.30px;height:7.20px;border:1px solid #e2e2e2;border-radius:1px;background:#fff"></div>
<div class="a" style="left:57.00px;top:186.75px;width:51.40px;height:20.75px;background:#f4f4f4;border-bottom:1px solid #e6e6e6"></div>
<div class="a" style="left:108.40px;top:186.75px;width:320.40px;height:20.75px;background:#fff;border-bottom:1px solid #e6e6e6"></div>
<div class="a" style="left:428.80px;top:186.75px;width:31.20px;height:20.75px;background:#f4f4f4;border-bottom:1px solid #e6e6e6"></div>
<svg style="left:62px;top:194.82px" width="10" height="3" viewBox="0 0 10 3"><rect x="0.3" y="0" width="9.4" height="2.8" fill="#4a4a4a"/></svg>
<div class="a" style="left:29.00px;top:206.50px;width:28.00px;height:1.00px;background:#ececec"></div>
<div class="a" style="left:433.90px;top:189.22px;width:15.80px;height:15.80px;background:#a08474;border-radius:50%"></div>
<div class="c" style="left:441.80px;top:197.12px;font-size:7.2px;letter-spacing:-1.2px;color:#fff;font-weight:bold">安全</div>
<div class="a" style="left:29.20px;top:186.75px;width:0.90px;height:20.75px;background:#e9e9e9"></div>
<div class="a" style="left:57.00px;top:186.75px;width:0.90px;height:20.75px;background:#e9e9e9"></div>
<div class="a" style="left:77.20px;top:186.75px;width:0.90px;height:20.75px;background:#e9e9e9"></div>
<div class="a" style="left:108.40px;top:186.75px;width:0.90px;height:20.75px;background:#e9e9e9"></div>
<div class="a" style="left:199.00px;top:186.75px;width:0.90px;height:20.75px;background:#e9e9e9"></div>
<div class="a" style="left:298.50px;top:186.75px;width:0.90px;height:20.75px;background:#e9e9e9"></div>
<div class="a" style="left:349.70px;top:186.75px;width:0.90px;height:20.75px;background:#e9e9e9"></div>
<div class="a" style="left:393.00px;top:186.75px;width:0.90px;height:20.75px;background:#e9e9e9"></div>
<div class="a" style="left:428.80px;top:186.75px;width:0.90px;height:20.75px;background:#e9e9e9"></div>
<div class="t" style="left:120.50px;top:197.12px;font-size:6.9px;letter-spacing:-0.3px;-webkit-text-stroke:0.25px currentColor;color:#2a2a2a;">衝突安全解析</div>
<div class="t" style="left:201.50px;top:197.12px;font-size:6.9px;letter-spacing:-0.3px;-webkit-text-stroke:0.25px currentColor;color:#2a2a2a;">衝突安全解析</div>
<div class="t" style="left:301.50px;top:197.12px;font-size:6.7px;color:#222;-webkit-text-stroke:0.2px currentColor;">02-03-26</div>
<div class="t" style="left:352.50px;top:197.12px;font-size:6.7px;color:#222;-webkit-text-stroke:0.2px currentColor;">24-04-26</div>
<div class="r" style="left:425.00px;top:197.12px;font-size:6.7px;color:#222;-webkit-text-stroke:0.2px currentColor;">40d</div>
<div class="a" style="left:12.70px;top:207.50px;width:16.00px;height:20.75px;background:#fff;border-bottom:1px solid #ececec"></div>
<div class="a" style="left:18.10px;top:214.27px;width:7.30px;height:7.20px;border:1px solid #e2e2e2;border-radius:1px;background:#fff"></div>
<div class="a" style="left:57.00px;top:207.50px;width:51.40px;height:20.75px;background:#f4f4f4;border-bottom:1px solid #e6e6e6"></div>
<div class="a" style="left:108.40px;top:207.50px;width:320.40px;height:20.75px;background:#fff;border-bottom:1px solid #e6e6e6"></div>
<div class="a" style="left:428.80px;top:207.50px;width:31.20px;height:20.75px;background:#f4f4f4;border-bottom:1px solid #e6e6e6"></div>
<svg style="left:62px;top:215.57px" width="10" height="3" viewBox="0 0 10 3"><rect x="0.3" y="0" width="9.4" height="2.8" fill="#4a4a4a"/></svg>
<div class="a" style="left:29.00px;top:227.25px;width:28.00px;height:1.00px;background:#ececec"></div>
<div class="a" style="left:433.90px;top:209.97px;width:15.80px;height:15.80px;background:#1a9be6;border-radius:50%"></div>
<div class="c" style="left:441.80px;top:217.87px;font-size:7.2px;letter-spacing:-1.2px;color:#fff;font-weight:bold">構造</div>
<div class="a" style="left:29.20px;top:207.50px;width:0.90px;height:20.75px;background:#e9e9e9"></div>
<div class="a" style="left:57.00px;top:207.50px;width:0.90px;height:20.75px;background:#e9e9e9"></div>
<div class="a" style="left:77.20px;top:207.50px;width:0.90px;height:20.75px;background:#e9e9e9"></div>
<div class="a" style="left:108.40px;top:207.50px;width:0.90px;height:20.75px;background:#e9e9e9"></div>
<div class="a" style="left:199.00px;top:207.50px;width:0.90px;height:20.75px;background:#e9e9e9"></div>
<div class="a" style="left:298.50px;top:207.50px;width:0.90px;height:20.75px;background:#e9e9e9"></div>
<div class="a" style="left:349.70px;top:207.50px;width:0.90px;height:20.75px;background:#e9e9e9"></div>
<div class="a" style="left:393.00px;top:207.50px;width:0.90px;height:20.75px;background:#e9e9e9"></div>
<div class="a" style="left:428.80px;top:207.50px;width:0.90px;height:20.75px;background:#e9e9e9"></div>
<div class="t" style="left:120.50px;top:217.87px;font-size:6.9px;letter-spacing:-0.3px;-webkit-text-stroke:0.25px currentColor;color:#2a2a2a;">構造解析</div>
<div class="t" style="left:201.50px;top:217.87px;font-size:6.9px;letter-spacing:-0.3px;-webkit-text-stroke:0.25px currentColor;color:#2a2a2a;">構造解析</div>
<div class="t" style="left:301.50px;top:217.87px;font-size:6.7px;color:#222;-webkit-text-stroke:0.2px currentColor;">27-04-26</div>
<div class="t" style="left:352.50px;top:217.87px;font-size:6.7px;color:#222;-webkit-text-stroke:0.2px currentColor;">19-06-26</div>
<div class="r" style="left:425.00px;top:217.87px;font-size:6.7px;color:#222;-webkit-text-stroke:0.2px currentColor;">40d</div>
<div class="a" style="left:12.70px;top:228.25px;width:16.00px;height:20.75px;background:#fff;border-bottom:1px solid #ececec"></div>
<div class="a" style="left:18.10px;top:235.02px;width:7.30px;height:7.20px;border:1px solid #e2e2e2;border-radius:1px;background:#fff"></div>
<div class="a" style="left:57.00px;top:228.25px;width:51.40px;height:20.75px;background:#f4f4f4;border-bottom:1px solid #e6e6e6"></div>
<div class="a" style="left:108.40px;top:228.25px;width:320.40px;height:20.75px;background:#fff;border-bottom:1px solid #e6e6e6"></div>
<div class="a" style="left:428.80px;top:228.25px;width:31.20px;height:20.75px;background:#f4f4f4;border-bottom:1px solid #e6e6e6"></div>
<svg style="left:62px;top:236.32px" width="10" height="3" viewBox="0 0 10 3"><rect x="0.3" y="0" width="9.4" height="2.8" fill="#4a4a4a"/></svg>
<div class="a" style="left:29.00px;top:248.00px;width:28.00px;height:1.00px;background:#ececec"></div>
<div class="a" style="left:433.90px;top:230.72px;width:15.80px;height:15.80px;background:#f6e23a;border-radius:50%"></div>
<div class="c" style="left:441.80px;top:238.62px;font-size:7.2px;letter-spacing:-1.2px;color:#333;font-weight:bold">NV</div>
<div class="a" style="left:29.20px;top:228.25px;width:0.90px;height:20.75px;background:#e9e9e9"></div>
<div class="a" style="left:57.00px;top:228.25px;width:0.90px;height:20.75px;background:#e9e9e9"></div>
<div class="a" style="left:77.20px;top:228.25px;width:0.90px;height:20.75px;background:#e9e9e9"></div>
<div class="a" style="left:108.40px;top:228.25px;width:0.90px;height:20.75px;background:#e9e9e9"></div>
<div class="a" style="left:199.00px;top:228.25px;width:0.90px;height:20.75px;background:#e9e9e9"></div>
<div class="a" style="left:298.50px;top:228.25px;width:0.90px;height:20.75px;background:#e9e9e9"></div>
<div class="a" style="left:349.70px;top:228.25px;width:0.90px;height:20.75px;background:#e9e9e9"></div>
<div class="a" style="left:393.00px;top:228.25px;width:0.90px;height:20.75px;background:#e9e9e9"></div>
<div class="a" style="left:428.80px;top:228.25px;width:0.90px;height:20.75px;background:#e9e9e9"></div>
<div class="a" style="left:120.5px;top:230.82px;font-size:6.9px;letter-spacing:-0.3px;-webkit-text-stroke:0.25px currentColor;color:#2a2a2a;line-height:7.8px;white-space:nowrap">振動・騒音解析 (NVH解<br>析)</div>
<div class="t" style="left:201.50px;top:238.62px;font-size:6.9px;letter-spacing:-0.3px;-webkit-text-stroke:0.25px currentColor;color:#2a2a2a;">振動・騒音解析 (NVH解析)</div>
<div class="t" style="left:301.50px;top:238.62px;font-size:6.7px;color:#222;-webkit-text-stroke:0.2px currentColor;">27-04-26</div>
<div class="t" style="left:352.50px;top:238.62px;font-size:6.7px;color:#222;-webkit-text-stroke:0.2px currentColor;">19-06-26</div>
<div class="r" style="left:425.00px;top:238.62px;font-size:6.7px;color:#222;-webkit-text-stroke:0.2px currentColor;">40d</div>
<div class="a" style="left:12.70px;top:249.00px;width:16.00px;height:20.75px;background:#fff;border-bottom:1px solid #ececec"></div>
<div class="a" style="left:18.10px;top:255.77px;width:7.30px;height:7.20px;border:1px solid #e2e2e2;border-radius:1px;background:#fff"></div>
<div class="a" style="left:57.00px;top:249.00px;width:51.40px;height:20.75px;background:#f4f4f4;border-bottom:1px solid #e6e6e6"></div>
<div class="a" style="left:108.40px;top:249.00px;width:320.40px;height:20.75px;background:#fff;border-bottom:1px solid #e6e6e6"></div>
<div class="a" style="left:428.80px;top:249.00px;width:31.20px;height:20.75px;background:#f4f4f4;border-bottom:1px solid #e6e6e6"></div>
<svg style="left:62px;top:257.07px" width="10" height="3" viewBox="0 0 10 3"><rect x="0.3" y="0" width="9.4" height="2.8" fill="#4a4a4a"/></svg>
<div class="a" style="left:29.00px;top:268.75px;width:28.00px;height:1.00px;background:#ececec"></div>
<div class="a" style="left:433.90px;top:251.47px;width:15.80px;height:15.80px;background:#4aa85a;border-radius:50%"></div>
<div class="c" style="left:441.80px;top:259.38px;font-size:7.2px;letter-spacing:-1.2px;color:#fff;font-weight:bold">購買</div>
<div class="a" style="left:29.20px;top:249.00px;width:0.90px;height:20.75px;background:#e9e9e9"></div>
<div class="a" style="left:57.00px;top:249.00px;width:0.90px;height:20.75px;background:#e9e9e9"></div>
<div class="a" style="left:77.20px;top:249.00px;width:0.90px;height:20.75px;background:#e9e9e9"></div>
<div class="a" style="left:108.40px;top:249.00px;width:0.90px;height:20.75px;background:#e9e9e9"></div>
<div class="a" style="left:199.00px;top:249.00px;width:0.90px;height:20.75px;background:#e9e9e9"></div>
<div class="a" style="left:298.50px;top:249.00px;width:0.90px;height:20.75px;background:#e9e9e9"></div>
<div class="a" style="left:349.70px;top:249.00px;width:0.90px;height:20.75px;background:#e9e9e9"></div>
<div class="a" style="left:393.00px;top:249.00px;width:0.90px;height:20.75px;background:#e9e9e9"></div>
<div class="a" style="left:428.80px;top:249.00px;width:0.90px;height:20.75px;background:#e9e9e9"></div>
<div class="t" style="left:117.50px;top:259.38px;font-size:6.9px;letter-spacing:-0.3px;-webkit-text-stroke:0.25px currentColor;color:#2a2a2a;">サプライヤー選定と協力</div>
<div class="t" style="left:201.50px;top:259.38px;font-size:6.9px;letter-spacing:-0.3px;-webkit-text-stroke:0.25px currentColor;color:#2a2a2a;">サプライヤー選定と協力</div>
<div class="t" style="left:301.50px;top:259.38px;font-size:6.7px;color:#222;-webkit-text-stroke:0.2px currentColor;">01-10-25</div>
<div class="t" style="left:352.50px;top:259.38px;font-size:6.7px;color:#222;-webkit-text-stroke:0.2px currentColor;">17-03-26</div>
<div class="r" style="left:425.00px;top:259.38px;font-size:6.7px;color:#222;-webkit-text-stroke:0.2px currentColor;">120d</div>
<div class="a" style="left:12.70px;top:269.75px;width:16.00px;height:20.75px;background:#fff;border-bottom:1px solid #ececec"></div>
<div class="a" style="left:18.10px;top:276.52px;width:7.30px;height:7.20px;border:1px solid #e2e2e2;border-radius:1px;background:#fff"></div>
<div class="a" style="left:57.00px;top:269.75px;width:51.40px;height:20.75px;background:#f4f4f4;border-bottom:1px solid #e6e6e6"></div>
<div class="a" style="left:108.40px;top:269.75px;width:320.40px;height:20.75px;background:#fff;border-bottom:1px solid #e6e6e6"></div>
<div class="a" style="left:428.80px;top:269.75px;width:31.20px;height:20.75px;background:#f4f4f4;border-bottom:1px solid #e6e6e6"></div>
<svg style="left:62px;top:277.82px" width="10" height="3" viewBox="0 0 10 3"><rect x="0.3" y="0" width="9.4" height="2.8" fill="#4a4a4a"/></svg>
<div class="a" style="left:29.00px;top:289.50px;width:28.00px;height:1.00px;background:#ececec"></div>
<div class="a" style="left:433.90px;top:272.23px;width:15.80px;height:15.80px;background:#f6e87a;border-radius:50%"></div>
<div class="c" style="left:441.80px;top:280.12px;font-size:7.2px;letter-spacing:-1.2px;color:#555;font-weight:bold">財務</div>
<div class="a" style="left:29.20px;top:269.75px;width:0.90px;height:20.75px;background:#e9e9e9"></div>
<div class="a" style="left:57.00px;top:269.75px;width:0.90px;height:20.75px;background:#e9e9e9"></div>
<div class="a" style="left:77.20px;top:269.75px;width:0.90px;height:20.75px;background:#e9e9e9"></div>
<div class="a" style="left:108.40px;top:269.75px;width:0.90px;height:20.75px;background:#e9e9e9"></div>
<div class="a" style="left:199.00px;top:269.75px;width:0.90px;height:20.75px;background:#e9e9e9"></div>
<div class="a" style="left:298.50px;top:269.75px;width:0.90px;height:20.75px;background:#e9e9e9"></div>
<div class="a" style="left:349.70px;top:269.75px;width:0.90px;height:20.75px;background:#e9e9e9"></div>
<div class="a" style="left:393.00px;top:269.75px;width:0.90px;height:20.75px;background:#e9e9e9"></div>
<div class="a" style="left:428.80px;top:269.75px;width:0.90px;height:20.75px;background:#e9e9e9"></div>
<div class="t" style="left:117.50px;top:280.12px;font-size:6.9px;letter-spacing:-0.3px;-webkit-text-stroke:0.25px currentColor;color:#2a2a2a;">コスト分析と見積もり</div>
<div class="t" style="left:201.50px;top:280.12px;font-size:6.9px;letter-spacing:-0.3px;-webkit-text-stroke:0.25px currentColor;color:#2a2a2a;">コスト分析と見積もり</div>
<div class="t" style="left:301.50px;top:280.12px;font-size:6.7px;color:#222;-webkit-text-stroke:0.2px currentColor;">01-04-26</div>
<div class="t" style="left:352.50px;top:280.12px;font-size:6.7px;color:#222;-webkit-text-stroke:0.2px currentColor;">23-06-26</div>
<div class="r" style="left:425.00px;top:280.12px;font-size:6.7px;color:#222;-webkit-text-stroke:0.2px currentColor;">60d</div>
<div class="a" style="left:12.70px;top:290.50px;width:16.00px;height:20.75px;background:#fff;border-bottom:1px solid #ececec"></div>
<div class="a" style="left:18.10px;top:297.27px;width:7.30px;height:7.20px;border:1px solid #e2e2e2;border-radius:1px;background:#fff"></div>
<div class="a" style="left:57.00px;top:290.50px;width:51.40px;height:20.75px;background:#f4f4f4;border-bottom:1px solid #e6e6e6"></div>
<div class="a" style="left:108.40px;top:290.50px;width:320.40px;height:20.75px;background:#fff;border-bottom:1px solid #e6e6e6"></div>
<div class="a" style="left:428.80px;top:290.50px;width:31.20px;height:20.75px;background:#f4f4f4;border-bottom:1px solid #e6e6e6"></div>
<svg style="left:62px;top:298.57px" width="10" height="3" viewBox="0 0 10 3"><rect x="0.3" y="0" width="9.4" height="2.8" fill="#4a4a4a"/></svg>
<div class="a" style="left:29.00px;top:310.25px;width:28.00px;height:1.00px;background:#ececec"></div>
<div class="a" style="left:433.90px;top:292.98px;width:15.80px;height:15.80px;background:#8cc870;border-radius:50%"></div>
<div class="c" style="left:441.80px;top:300.88px;font-size:7.2px;letter-spacing:-1.2px;color:#333;font-weight:bold">車両</div>
<div class="a" style="left:29.20px;top:290.50px;width:0.90px;height:20.75px;background:#e9e9e9"></div>
<div class="a" style="left:57.00px;top:290.50px;width:0.90px;height:20.75px;background:#e9e9e9"></div>
<div class="a" style="left:77.20px;top:290.50px;width:0.90px;height:20.75px;background:#e9e9e9"></div>
<div class="a" style="left:108.40px;top:290.50px;width:0.90px;height:20.75px;background:#e9e9e9"></div>
<div class="a" style="left:199.00px;top:290.50px;width:0.90px;height:20.75px;background:#e9e9e9"></div>
<div class="a" style="left:298.50px;top:290.50px;width:0.90px;height:20.75px;background:#e9e9e9"></div>
<div class="a" style="left:349.70px;top:290.50px;width:0.90px;height:20.75px;background:#e9e9e9"></div>
<div class="a" style="left:393.00px;top:290.50px;width:0.90px;height:20.75px;background:#e9e9e9"></div>
<div class="a" style="left:428.80px;top:290.50px;width:0.90px;height:20.75px;background:#e9e9e9"></div>
<div class="a" style="left:117.5px;top:293.07px;font-size:6.9px;letter-spacing:-0.3px;-webkit-text-stroke:0.25px currentColor;color:#2a2a2a;line-height:7.8px;white-space:nowrap">エンジニアリングデザイ<br>ンのレビュー</div>
<div class="a" style="left:201.5px;top:293.07px;font-size:6.9px;letter-spacing:-0.3px;-webkit-text-stroke:0.25px currentColor;color:#2a2a2a;line-height:7.8px;white-space:nowrap">エンジニアリングデザインの<br>レビュー</div>
<div class="t" style="left:301.50px;top:300.88px;font-size:6.7px;color:#222;-webkit-text-stroke:0.2px currentColor;">01-07-26</div>
<div class="t" style="left:352.50px;top:300.88px;font-size:6.7px;color:#222;-webkit-text-stroke:0.2px currentColor;">25-08-26</div>
<div class="r" style="left:425.00px;top:300.88px;font-size:6.7px;color:#222;-webkit-text-stroke:0.2px currentColor;">40d</div>
<div class="a" style="left:12.70px;top:311.25px;width:16.00px;height:20.75px;background:#fff;border-bottom:1px solid #ececec"></div>
<div class="a" style="left:18.10px;top:318.02px;width:7.30px;height:7.20px;border:1px solid #e2e2e2;border-radius:1px;background:#fff"></div>
<div class="a" style="left:57.00px;top:311.75px;width:403.00px;height:19.25px;background:#d8dcf3"></div>
<div class="a" style="left:37.30px;top:311.75px;width:15.00px;height:19.25px;background:#8291dd"></div>
<div class="a" style="left:52.30px;top:311.75px;width:3.70px;height:19.25px;background:#a3ade7"></div>
<svg style="left:38.50px;top:319.62px" width="6" height="4" viewBox="0 0 6 4"><path d="M0.6,0.6 L3,3 L5.4,0.6" fill="none" stroke="#fff" stroke-width="1.2"/></svg>
<svg style="left:62px;top:318.62px" width="10" height="6" viewBox="0 0 10 6"><path d="M0.3,0.3 L2.5,2 L7.5,2 L9.7,0.3 L9.7,5.5 L0.3,5.5 Z" fill="#4a4a4a"/></svg>
<svg style="left:87px;top:317.12px" width="11" height="9" viewBox="0 0 11 9"><path d="M0.5,0.5 H10.5" stroke="#555" stroke-width="0.9"/><path d="M0.5,5.5 H4.5 M2.5,3.5 V7.5" stroke="#444" stroke-width="1"/><path d="M6,2.6 H10.5 M6,4.8 H10.5 M6,7 H10.5 M6,8.5 H10.5" stroke="#666" stroke-width="0.8"/></svg>
<svg style="left:435.5px;top:316.62px" width="14" height="10" viewBox="0 0 14 10"><circle cx="5" cy="2.6" r="2.4" fill="#555"/><path d="M0.2,9.8 Q0.2,5.8 5,5.8 Q9.8,5.8 9.8,9.8 Z" fill="#555"/><path d="M11.6,1.6 V5.6 M9.6,3.6 H13.6" stroke="#555" stroke-width="1.1"/></svg>
<div class="a" style="left:29.20px;top:311.25px;width:0.90px;height:20.75px;background:#e9e9e9"></div>
<div class="a" style="left:57.00px;top:311.25px;width:0.90px;height:20.75px;background:#e9e9e9"></div>
<div class="a" style="left:77.20px;top:311.25px;width:0.90px;height:20.75px;background:#e9e9e9"></div>
<div class="a" style="left:108.40px;top:311.25px;width:0.90px;height:20.75px;background:#e9e9e9"></div>
<div class="a" style="left:199.00px;top:311.25px;width:0.90px;height:20.75px;background:#e9e9e9"></div>
<div class="a" style="left:298.50px;top:311.25px;width:0.90px;height:20.75px;background:#e9e9e9"></div>
<div class="a" style="left:349.70px;top:311.25px;width:0.90px;height:20.75px;background:#e9e9e9"></div>
<div class="a" style="left:393.00px;top:311.25px;width:0.90px;height:20.75px;background:#e9e9e9"></div>
<div class="a" style="left:428.80px;top:311.25px;width:0.90px;height:20.75px;background:#e9e9e9"></div>
<div class="t" style="left:114.50px;top:321.62px;font-size:6.9px;letter-spacing:-0.3px;-webkit-text-stroke:0.25px currentColor;color:#444;-webkit-text-stroke:0.3px currentColor;">試作・テスト</div>
<div class="t" style="left:201.50px;top:321.62px;font-size:6.9px;letter-spacing:-0.3px;-webkit-text-stroke:0.25px currentColor;color:#444;-webkit-text-stroke:0.3px currentColor;">試作・テスト</div>
<div class="t" style="left:301.50px;top:321.62px;font-size:6.7px;color:#555;-webkit-text-stroke:0.3px currentColor;">01-10-26</div>
<div class="t" style="left:352.50px;top:321.62px;font-size:6.7px;color:#555;-webkit-text-stroke:0.3px currentColor;">28-02-28</div>
<div class="r" style="left:425.00px;top:321.62px;font-size:6.7px;color:#555;-webkit-text-stroke:0.3px currentColor;">368d</div>
<div class="a" style="left:12.70px;top:332.00px;width:16.00px;height:20.75px;background:#fff;border-bottom:1px solid #ececec"></div>
<div class="a" style="left:18.10px;top:338.77px;width:7.30px;height:7.20px;border:1px solid #e2e2e2;border-radius:1px;background:#fff"></div>
<div class="a" style="left:57.00px;top:332.50px;width:403.00px;height:19.25px;background:#dde1fc"></div>
<div class="a" style="left:45.00px;top:332.50px;width:7.30px;height:19.25px;background:#7b8ff5"></div>
<div class="a" style="left:52.30px;top:332.50px;width:3.70px;height:19.25px;background:#a6b3f8"></div>
<svg style="left:45.60px;top:340.38px" width="6" height="4" viewBox="0 0 6 4"><path d="M0.6,0.6 L3,3 L5.4,0.6" fill="none" stroke="#fff" stroke-width="1.2"/></svg>
<svg style="left:62px;top:339.38px" width="10" height="6" viewBox="0 0 10 6"><path d="M0.3,0.3 L2.5,2 L7.5,2 L9.7,0.3 L9.7,5.5 L0.3,5.5 Z" fill="#4a4a4a"/></svg>
<svg style="left:87px;top:337.88px" width="11" height="9" viewBox="0 0 11 9"><path d="M0.5,0.5 H10.5" stroke="#555" stroke-width="0.9"/><path d="M0.5,5.5 H4.5 M2.5,3.5 V7.5" stroke="#444" stroke-width="1"/><path d="M6,2.6 H10.5 M6,4.8 H10.5 M6,7 H10.5 M6,8.5 H10.5" stroke="#666" stroke-width="0.8"/></svg>
<svg style="left:435.5px;top:337.38px" width="14" height="10" viewBox="0 0 14 10"><circle cx="5" cy="2.6" r="2.4" fill="#555"/><path d="M0.2,9.8 Q0.2,5.8 5,5.8 Q9.8,5.8 9.8,9.8 Z" fill="#555"/><path d="M11.6,1.6 V5.6 M9.6,3.6 H13.6" stroke="#555" stroke-width="1.1"/></svg>
<div class="a" style="left:29.20px;top:332.00px;width:0.90px;height:20.75px;background:#e9e9e9"></div>
<div class="a" style="left:57.00px;top:332.00px;width:0.90px;height:20.75px;background:#e9e9e9"></div>
<div class="a" style="left:77.20px;top:332.00px;width:0.90px;height:20.75px;background:#e9e9e9"></div>
<div class="a" style="left:108.40px;top:332.00px;width:0.90px;height:20.75px;background:#e9e9e9"></div>
<div class="a" style="left:199.00px;top:332.00px;width:0.90px;height:20.75px;background:#e9e9e9"></div>
<div class="a" style="left:298.50px;top:332.00px;width:0.90px;height:20.75px;background:#e9e9e9"></div>
<div class="a" style="left:349.70px;top:332.00px;width:0.90px;height:20.75px;background:#e9e9e9"></div>
<div class="a" style="left:393.00px;top:332.00px;width:0.90px;height:20.75px;background:#e9e9e9"></div>
<div class="a" style="left:428.80px;top:332.00px;width:0.90px;height:20.75px;background:#e9e9e9"></div>
<div class="t" style="left:117.50px;top:342.38px;font-size:6.9px;letter-spacing:-0.3px;-webkit-text-stroke:0.25px currentColor;color:#444;-webkit-text-stroke:0.3px currentColor;">試作車の製作</div>
<div class="t" style="left:201.50px;top:342.38px;font-size:6.9px;letter-spacing:-0.3px;-webkit-text-stroke:0.25px currentColor;color:#444;-webkit-text-stroke:0.3px currentColor;">試作車の製作</div>
<div class="t" style="left:301.50px;top:342.38px;font-size:6.7px;color:#555;-webkit-text-stroke:0.3px currentColor;">01-10-26</div>
<div class="t" style="left:352.50px;top:342.38px;font-size:6.7px;color:#555;-webkit-text-stroke:0.3px currentColor;">25-02-27</div>
<div class="r" style="left:425.00px;top:342.38px;font-size:6.7px;color:#555;-webkit-text-stroke:0.3px currentColor;">106d</div>
<div class="a" style="left:29.90px;top:0.00px;width:1.10px;height:343.00px;background:#5b6fe0"></div>
<div class="a" style="left:37.20px;top:20.75px;width:1.00px;height:290.50px;background:#a3afe8"></div>
<div class="a" style="left:45.00px;top:41.50px;width:1.00px;height:103.75px;background:#b4c0fa"></div>
<div class="a" style="left:45.00px;top:166.00px;width:1.00px;height:83.00px;background:#b4c0fa"></div>
<div class="a" style="left:37.20px;top:332.00px;width:1.00px;height:20.75px;background:#a3afe8"></div>
<svg style="left:45px;top:140.25px" width="5" height="5" viewBox="0 0 5 5"><path d="M0,0 L4.6,4.6 L0,4.6 Z" fill="#7b8ff5"/></svg>
<svg style="left:45px;top:244.00px" width="5" height="5" viewBox="0 0 5 5"><path d="M0,0 L4.6,4.6 L0,4.6 Z" fill="#7b8ff5"/></svg>
<svg style="left:37.2px;top:306.25px" width="5" height="5" viewBox="0 0 5 5"><path d="M0,0 L4.6,4.6 L0,4.6 Z" fill="#7b8ff5"/></svg>
</div>
<div class="a" style="left:460px;top:124.4px;width:814px;height:343.00px;overflow:hidden">
<svg style="left:0;top:0" width="814" height="343.00"><line x1="182.5" y1="0" x2="182.5" y2="343.0" stroke="#c4c4c4" stroke-width="0.8" stroke-dasharray="2 2"/><path d="M163.98,31.05 L166.48,31.05 Q168.48,31.05 168.48,33.05 L168.48,38.50 Q168.48,40.50 170.48,40.50 L180.50,40.50 Q182.50,40.50 182.50,42.50 L182.50,153.55 Q182.50,155.55 184.50,155.55 L186.51,155.55" fill="none" stroke="#aaaee5" stroke-width="0.9"/><path d="M186.41,152.95 L190.81,155.55 L186.41,158.15 Z" fill="#7d72c9"/><path d="M312.67,176.30 L315.17,176.30 Q317.17,176.30 317.17,178.30 L317.17,183.75 Q317.17,185.75 315.17,185.75 L314.18,185.75 Q312.18,185.75 312.18,187.75 L312.18,196.80 Q312.18,197.05 312.43,197.05 L312.68,197.05" fill="none" stroke="#aaaee5" stroke-width="0.9"/><path d="M312.58,194.45 L316.98,197.05 L312.58,199.65 Z" fill="#7d72c9"/><path d="M438.84,197.05 L441.34,197.05 Q443.34,197.05 443.34,199.05 L443.34,204.50 Q443.34,206.50 441.34,206.50 L439.50,206.50 Q437.50,206.50 437.50,208.50 L437.50,217.13 Q437.50,217.80 438.17,217.80 L438.85,217.80" fill="none" stroke="#aaaee5" stroke-width="0.9"/><path d="M438.75,215.20 L443.15,217.80 L438.75,220.40 Z" fill="#7d72c9"/><path d="M438.84,197.05 L441.34,197.05 Q443.34,197.05 443.34,199.05 L443.34,204.50 Q443.34,206.50 441.34,206.50 L439.50,206.50 Q437.50,206.50 437.50,208.50 L437.50,237.88 Q437.50,238.55 438.17,238.55 L438.85,238.55" fill="none" stroke="#aaaee5" stroke-width="0.9"/><path d="M438.75,235.95 L443.15,238.55 L438.75,241.15 Z" fill="#7d72c9"/><path d="M312.50,185.75 L435.50,185.75 Q437.50,185.75 437.50,187.75 L437.50,217.80" fill="none" stroke="#aaaee5" stroke-width="0.9"/><path d="M353.23,259.30 L355.73,259.30 Q357.73,259.30 357.73,261.30 L357.73,266.75 Q357.73,268.75 359.73,268.75 L377.77,268.75 Q379.77,268.75 379.77,270.75 L379.77,279.80 Q379.77,280.05 380.02,280.05 L380.27,280.05" fill="none" stroke="#aaaee5" stroke-width="0.9"/><path d="M380.17,277.45 L384.57,280.05 L380.17,282.65 Z" fill="#7d72c9"/><path d="M574.02,280.05 L576.52,280.05 Q578.52,280.05 578.52,282.05 L578.52,287.50 Q578.52,289.50 580.52,289.50 L582.79,289.50 Q584.79,289.50 584.79,291.50 L584.79,300.55 Q584.79,300.80 585.04,300.80 L585.29,300.80" fill="none" stroke="#aaaee5" stroke-width="0.9"/><path d="M585.19,298.20 L589.59,300.80 L585.19,303.40 Z" fill="#7d72c9"/><path d="M715.96,300.80 L718.46,300.80 Q720.46,300.80 720.46,302.80 L720.46,308.75 Q720.46,310.75 722.46,310.75 L783.50,310.75 Q785.50,310.75 785.50,312.75 L785.50,340.30 Q785.50,342.30 787.50,342.30 L792.57,342.30" fill="none" stroke="#aaaee5" stroke-width="0.9"/><path d="M792.47,339.70 L796.87,342.30 L792.47,344.90 Z" fill="#7d72c9"/><path d="M715.96,10.30 L718.46,10.30 Q720.46,10.30 720.46,12.30 L720.46,17.50 Q720.46,19.50 722.46,19.50 L787.50,19.50 Q789.50,19.50 789.50,21.50 L789.50,320.02 Q789.50,321.55 791.03,321.55 L792.57,321.55" fill="none" stroke="#aaaee5" stroke-width="0.9"/><path d="M792.47,318.95 L796.87,321.55 L792.47,324.15 Z" fill="#7d72c9"/><rect x="-2.00" y="4.70" width="717.96" height="11.2" rx="1.8" fill="#b5de80"/><rect x="-1.00" y="5.70" width="2.76" height="9.2" fill="#fff"/><rect x="13.02" y="5.70" width="4.51" height="9.2" fill="#fff"/><rect x="28.80" y="5.70" width="4.51" height="9.2" fill="#fff"/><rect x="44.57" y="5.70" width="4.51" height="9.2" fill="#fff"/><rect x="60.34" y="5.70" width="4.51" height="9.2" fill="#fff"/><rect x="76.11" y="5.70" width="4.51" height="9.2" fill="#fff"/><rect x="91.88" y="5.70" width="4.51" height="9.2" fill="#fff"/><rect x="107.65" y="5.70" width="4.51" height="9.2" fill="#fff"/><rect x="123.42" y="5.70" width="4.51" height="9.2" fill="#fff"/><rect x="139.19" y="5.70" width="4.51" height="9.2" fill="#fff"/><rect x="154.96" y="5.70" width="4.51" height="9.2" fill="#fff"/><rect x="170.74" y="5.70" width="4.51" height="9.2" fill="#fff"/><rect x="186.51" y="5.70" width="4.51" height="9.2" fill="#fff"/><rect x="202.28" y="5.70" width="4.51" height="9.2" fill="#fff"/><rect x="218.05" y="5.70" width="4.51" height="9.2" fill="#fff"/><rect x="233.82" y="5.70" width="4.51" height="9.2" fill="#fff"/><rect x="249.59" y="5.70" width="4.51" height="9.2" fill="#fff"/><rect x="265.36" y="5.70" width="4.51" height="9.2" fill="#fff"/><rect x="281.13" y="5.70" width="4.51" height="9.2" fill="#fff"/><rect x="296.90" y="5.70" width="4.51" height="9.2" fill="#fff"/><rect x="312.67" y="5.70" width="4.51" height="9.2" fill="#fff"/><rect x="328.44" y="5.70" width="4.51" height="9.2" fill="#fff"/><rect x="344.22" y="5.70" width="4.51" height="9.2" fill="#fff"/><rect x="359.99" y="5.70" width="4.51" height="9.2" fill="#fff"/><rect x="375.76" y="5.70" width="4.51" height="9.2" fill="#fff"/><rect x="391.53" y="5.70" width="4.51" height="9.2" fill="#fff"/><rect x="407.30" y="5.70" width="4.51" height="9.2" fill="#fff"/><rect x="423.07" y="5.70" width="4.51" height="9.2" fill="#fff"/><rect x="438.84" y="5.70" width="4.51" height="9.2" fill="#fff"/><rect x="454.61" y="5.70" width="4.51" height="9.2" fill="#fff"/><rect x="470.38" y="5.70" width="4.51" height="9.2" fill="#fff"/><rect x="486.15" y="5.70" width="4.51" height="9.2" fill="#fff"/><rect x="501.93" y="5.70" width="4.51" height="9.2" fill="#fff"/><rect x="517.70" y="5.70" width="4.51" height="9.2" fill="#fff"/><rect x="533.47" y="5.70" width="4.51" height="9.2" fill="#fff"/><rect x="549.24" y="5.70" width="4.51" height="9.2" fill="#fff"/><rect x="565.01" y="5.70" width="4.51" height="9.2" fill="#fff"/><rect x="580.78" y="5.70" width="4.51" height="9.2" fill="#fff"/><rect x="596.55" y="5.70" width="4.51" height="9.2" fill="#fff"/><rect x="612.32" y="5.70" width="4.51" height="9.2" fill="#fff"/><rect x="628.09" y="5.70" width="4.51" height="9.2" fill="#fff"/><rect x="643.87" y="5.70" width="4.51" height="9.2" fill="#fff"/><rect x="659.64" y="5.70" width="4.51" height="9.2" fill="#fff"/><rect x="675.41" y="5.70" width="4.51" height="9.2" fill="#fff"/><rect x="691.18" y="5.70" width="4.51" height="9.2" fill="#fff"/><rect x="706.95" y="5.70" width="4.51" height="9.2" fill="#fff"/><text x="722.66" y="13.30" font-size="6.6" font-weight="bold" fill="#3a94e4" font-family="Liberation Sans">25-08-26</text><rect x="-2.00" y="25.45" width="165.98" height="11.2" rx="1.8" fill="#b5de80"/><rect x="-1.00" y="26.45" width="2.76" height="9.2" fill="#fff"/><rect x="13.02" y="26.45" width="4.51" height="9.2" fill="#fff"/><rect x="28.80" y="26.45" width="4.51" height="9.2" fill="#fff"/><rect x="44.57" y="26.45" width="4.51" height="9.2" fill="#fff"/><rect x="60.34" y="26.45" width="4.51" height="9.2" fill="#fff"/><rect x="76.11" y="26.45" width="4.51" height="9.2" fill="#fff"/><rect x="91.88" y="26.45" width="4.51" height="9.2" fill="#fff"/><rect x="107.65" y="26.45" width="4.51" height="9.2" fill="#fff"/><rect x="123.42" y="26.45" width="4.51" height="9.2" fill="#fff"/><rect x="139.19" y="26.45" width="4.51" height="9.2" fill="#fff"/><rect x="154.96" y="26.45" width="4.51" height="9.2" fill="#fff"/><text x="170.68" y="34.05" font-size="6.6" font-weight="bold" fill="#3a94e4" font-family="Liberation Sans">23-12-25</text><rect x="-2.00" y="46.20" width="165.98" height="11.2" rx="1.8" fill="#49cbc6"/><rect x="-1.00" y="47.20" width="2.76" height="9.2" fill="#fff"/><rect x="13.02" y="47.20" width="4.51" height="9.2" fill="#fff"/><rect x="28.80" y="47.20" width="4.51" height="9.2" fill="#fff"/><rect x="44.57" y="47.20" width="4.51" height="9.2" fill="#fff"/><rect x="60.34" y="47.20" width="4.51" height="9.2" fill="#fff"/><rect x="76.11" y="47.20" width="4.51" height="9.2" fill="#fff"/><rect x="91.88" y="47.20" width="4.51" height="9.2" fill="#fff"/><rect x="107.65" y="47.20" width="4.51" height="9.2" fill="#fff"/><rect x="123.42" y="47.20" width="4.51" height="9.2" fill="#fff"/><rect x="139.19" y="47.20" width="4.51" height="9.2" fill="#fff"/><rect x="154.96" y="47.20" width="4.51" height="9.2" fill="#fff"/><text x="170.68" y="54.80" font-size="6.6" font-weight="bold" fill="#3a94e4" font-family="Liberation Sans">23-12-25</text><rect x="-2.00" y="66.95" width="165.98" height="11.2" rx="1.8" fill="#49cbc6"/><rect x="-1.00" y="67.95" width="2.76" height="9.2" fill="#fff"/><rect x="13.02" y="67.95" width="4.51" height="9.2" fill="#fff"/><rect x="28.80" y="67.95" width="4.51" height="9.2" fill="#fff"/><rect x="44.57" y="67.95" width="4.51" height="9.2" fill="#fff"/><rect x="60.34" y="67.95" width="4.51" height="9.2" fill="#fff"/><rect x="76.11" y="67.95" width="4.51" height="9.2" fill="#fff"/><rect x="91.88" y="67.95" width="4.51" height="9.2" fill="#fff"/><rect x="107.65" y="67.95" width="4.51" height="9.2" fill="#fff"/><rect x="123.42" y="67.95" width="4.51" height="9.2" fill="#fff"/><rect x="139.19" y="67.95" width="4.51" height="9.2" fill="#fff"/><rect x="154.96" y="67.95" width="4.51" height="9.2" fill="#fff"/><text x="170.68" y="75.55" font-size="6.6" font-weight="bold" fill="#3a94e4" font-family="Liberation Sans">23-12-25</text><rect x="-2.00" y="87.70" width="165.98" height="11.2" rx="1.8" fill="#49cbc6"/><rect x="-1.00" y="88.70" width="2.76" height="9.2" fill="#fff"/><rect x="13.02" y="88.70" width="4.51" height="9.2" fill="#fff"/><rect x="28.80" y="88.70" width="4.51" height="9.2" fill="#fff"/><rect x="44.57" y="88.70" width="4.51" height="9.2" fill="#fff"/><rect x="60.34" y="88.70" width="4.51" height="9.2" fill="#fff"/><rect x="76.11" y="88.70" width="4.51" height="9.2" fill="#fff"/><rect x="91.88" y="88.70" width="4.51" height="9.2" fill="#fff"/><rect x="107.65" y="88.70" width="4.51" height="9.2" fill="#fff"/><rect x="123.42" y="88.70" width="4.51" height="9.2" fill="#fff"/><rect x="139.19" y="88.70" width="4.51" height="9.2" fill="#fff"/><rect x="154.96" y="88.70" width="4.51" height="9.2" fill="#fff"/><text x="170.68" y="96.30" font-size="6.6" font-weight="bold" fill="#3a94e4" font-family="Liberation Sans">23-12-25</text><rect x="-2.00" y="108.45" width="165.98" height="11.2" rx="1.8" fill="#49cbc6"/><rect x="-1.00" y="109.45" width="2.76" height="9.2" fill="#fff"/><rect x="13.02" y="109.45" width="4.51" height="9.2" fill="#fff"/><rect x="28.80" y="109.45" width="4.51" height="9.2" fill="#fff"/><rect x="44.57" y="109.45" width="4.51" height="9.2" fill="#fff"/><rect x="60.34" y="109.45" width="4.51" height="9.2" fill="#fff"/><rect x="76.11" y="109.45" width="4.51" height="9.2" fill="#fff"/><rect x="91.88" y="109.45" width="4.51" height="9.2" fill="#fff"/><rect x="107.65" y="109.45" width="4.51" height="9.2" fill="#fff"/><rect x="123.42" y="109.45" width="4.51" height="9.2" fill="#fff"/><rect x="139.19" y="109.45" width="4.51" height="9.2" fill="#fff"/><rect x="154.96" y="109.45" width="4.51" height="9.2" fill="#fff"/><text x="170.68" y="117.05" font-size="6.6" font-weight="bold" fill="#3a94e4" font-family="Liberation Sans">23-12-25</text><rect x="-2.00" y="129.20" width="165.98" height="11.2" rx="1.8" fill="#49cbc6"/><rect x="-1.00" y="130.20" width="2.76" height="9.2" fill="#fff"/><rect x="13.02" y="130.20" width="4.51" height="9.2" fill="#fff"/><rect x="28.80" y="130.20" width="4.51" height="9.2" fill="#fff"/><rect x="44.57" y="130.20" width="4.51" height="9.2" fill="#fff"/><rect x="60.34" y="130.20" width="4.51" height="9.2" fill="#fff"/><rect x="76.11" y="130.20" width="4.51" height="9.2" fill="#fff"/><rect x="91.88" y="130.20" width="4.51" height="9.2" fill="#fff"/><rect x="107.65" y="130.20" width="4.51" height="9.2" fill="#fff"/><rect x="123.42" y="130.20" width="4.51" height="9.2" fill="#fff"/><rect x="139.19" y="130.20" width="4.51" height="9.2" fill="#fff"/><rect x="154.96" y="130.20" width="4.51" height="9.2" fill="#fff"/><text x="170.68" y="137.80" font-size="6.6" font-weight="bold" fill="#3a94e4" font-family="Liberation Sans">23-12-25</text><rect x="191.01" y="149.95" width="374.00" height="11.2" rx="1.8" fill="#b5de80"/><rect x="202.28" y="150.95" width="4.51" height="9.2" fill="#fff"/><rect x="218.05" y="150.95" width="4.51" height="9.2" fill="#fff"/><rect x="233.82" y="150.95" width="4.51" height="9.2" fill="#fff"/><rect x="249.59" y="150.95" width="4.51" height="9.2" fill="#fff"/><rect x="265.36" y="150.95" width="4.51" height="9.2" fill="#fff"/><rect x="281.13" y="150.95" width="4.51" height="9.2" fill="#fff"/><rect x="296.90" y="150.95" width="4.51" height="9.2" fill="#fff"/><rect x="312.67" y="150.95" width="4.51" height="9.2" fill="#fff"/><rect x="328.44" y="150.95" width="4.51" height="9.2" fill="#fff"/><rect x="344.22" y="150.95" width="4.51" height="9.2" fill="#fff"/><rect x="359.99" y="150.95" width="4.51" height="9.2" fill="#fff"/><rect x="375.76" y="150.95" width="4.51" height="9.2" fill="#fff"/><rect x="391.53" y="150.95" width="4.51" height="9.2" fill="#fff"/><rect x="407.30" y="150.95" width="4.51" height="9.2" fill="#fff"/><rect x="423.07" y="150.95" width="4.51" height="9.2" fill="#fff"/><rect x="438.84" y="150.95" width="4.51" height="9.2" fill="#fff"/><rect x="454.61" y="150.95" width="4.51" height="9.2" fill="#fff"/><rect x="470.38" y="150.95" width="4.51" height="9.2" fill="#fff"/><rect x="486.15" y="150.95" width="4.51" height="9.2" fill="#fff"/><rect x="501.93" y="150.95" width="4.51" height="9.2" fill="#fff"/><rect x="517.70" y="150.95" width="4.51" height="9.2" fill="#fff"/><rect x="533.47" y="150.95" width="4.51" height="9.2" fill="#fff"/><rect x="549.24" y="150.95" width="4.51" height="9.2" fill="#fff"/><text x="180.01" y="158.55" font-size="6.6" font-weight="bold" text-anchor="end" fill="#3a94e4" font-family="Liberation Sans">05-01-26</text><text x="571.71" y="158.55" font-size="6.6" font-weight="bold" fill="#3a94e4" font-family="Liberation Sans">19-06-26</text><rect x="191.01" y="170.70" width="121.66" height="11.2" rx="1.8" fill="#49cbc6"/><rect x="202.28" y="171.70" width="4.51" height="9.2" fill="#fff"/><rect x="218.05" y="171.70" width="4.51" height="9.2" fill="#fff"/><rect x="233.82" y="171.70" width="4.51" height="9.2" fill="#fff"/><rect x="249.59" y="171.70" width="4.51" height="9.2" fill="#fff"/><rect x="265.36" y="171.70" width="4.51" height="9.2" fill="#fff"/><rect x="281.13" y="171.70" width="4.51" height="9.2" fill="#fff"/><rect x="296.90" y="171.70" width="4.51" height="9.2" fill="#fff"/><text x="180.01" y="179.30" font-size="6.6" font-weight="bold" text-anchor="end" fill="#3a94e4" font-family="Liberation Sans">05-01-26</text><text x="319.37" y="179.30" font-size="6.6" font-weight="bold" fill="#3a94e4" font-family="Liberation Sans">27-02-26</text><rect x="317.18" y="191.45" width="121.66" height="11.2" rx="1.8" fill="#49cbc6"/><rect x="328.44" y="192.45" width="4.51" height="9.2" fill="#fff"/><rect x="344.22" y="192.45" width="4.51" height="9.2" fill="#fff"/><rect x="359.99" y="192.45" width="4.51" height="9.2" fill="#fff"/><rect x="375.76" y="192.45" width="4.51" height="9.2" fill="#fff"/><rect x="391.53" y="192.45" width="4.51" height="9.2" fill="#fff"/><rect x="407.30" y="192.45" width="4.51" height="9.2" fill="#fff"/><rect x="423.07" y="192.45" width="4.51" height="9.2" fill="#fff"/><text x="306.18" y="200.05" font-size="6.6" font-weight="bold" text-anchor="end" fill="#3a94e4" font-family="Liberation Sans">02-03-26</text><text x="445.54" y="200.05" font-size="6.6" font-weight="bold" fill="#3a94e4" font-family="Liberation Sans">24-04-26</text><rect x="443.35" y="212.20" width="121.66" height="11.2" rx="1.8" fill="#49cbc6"/><rect x="454.61" y="213.20" width="4.51" height="9.2" fill="#fff"/><rect x="470.38" y="213.20" width="4.51" height="9.2" fill="#fff"/><rect x="486.15" y="213.20" width="4.51" height="9.2" fill="#fff"/><rect x="501.93" y="213.20" width="4.51" height="9.2" fill="#fff"/><rect x="517.70" y="213.20" width="4.51" height="9.2" fill="#fff"/><rect x="533.47" y="213.20" width="4.51" height="9.2" fill="#fff"/><rect x="549.24" y="213.20" width="4.51" height="9.2" fill="#fff"/><text x="432.35" y="220.80" font-size="6.6" font-weight="bold" text-anchor="end" fill="#3a94e4" font-family="Liberation Sans">27-04-26</text><text x="571.71" y="220.80" font-size="6.6" font-weight="bold" fill="#3a94e4" font-family="Liberation Sans">19-06-26</text><rect x="443.35" y="232.95" width="121.66" height="11.2" rx="1.8" fill="#49cbc6"/><rect x="454.61" y="233.95" width="4.51" height="9.2" fill="#fff"/><rect x="470.38" y="233.95" width="4.51" height="9.2" fill="#fff"/><rect x="486.15" y="233.95" width="4.51" height="9.2" fill="#fff"/><rect x="501.93" y="233.95" width="4.51" height="9.2" fill="#fff"/><rect x="517.70" y="233.95" width="4.51" height="9.2" fill="#fff"/><rect x="533.47" y="233.95" width="4.51" height="9.2" fill="#fff"/><rect x="549.24" y="233.95" width="4.51" height="9.2" fill="#fff"/><text x="432.35" y="241.55" font-size="6.6" font-weight="bold" text-anchor="end" fill="#3a94e4" font-family="Liberation Sans">27-04-26</text><text x="571.71" y="241.55" font-size="6.6" font-weight="bold" fill="#3a94e4" font-family="Liberation Sans">19-06-26</text><rect x="-2.00" y="253.70" width="355.23" height="11.2" rx="1.8" fill="#49cbc6"/><rect x="-1.00" y="254.70" width="2.76" height="9.2" fill="#fff"/><rect x="13.02" y="254.70" width="4.51" height="9.2" fill="#fff"/><rect x="28.80" y="254.70" width="4.51" height="9.2" fill="#fff"/><rect x="44.57" y="254.70" width="4.51" height="9.2" fill="#fff"/><rect x="60.34" y="254.70" width="4.51" height="9.2" fill="#fff"/><rect x="76.11" y="254.70" width="4.51" height="9.2" fill="#fff"/><rect x="91.88" y="254.70" width="4.51" height="9.2" fill="#fff"/><rect x="107.65" y="254.70" width="4.51" height="9.2" fill="#fff"/><rect x="123.42" y="254.70" width="4.51" height="9.2" fill="#fff"/><rect x="139.19" y="254.70" width="4.51" height="9.2" fill="#fff"/><rect x="154.96" y="254.70" width="4.51" height="9.2" fill="#fff"/><rect x="170.74" y="254.70" width="4.51" height="9.2" fill="#fff"/><rect x="186.51" y="254.70" width="4.51" height="9.2" fill="#fff"/><rect x="202.28" y="254.70" width="4.51" height="9.2" fill="#fff"/><rect x="218.05" y="254.70" width="4.51" height="9.2" fill="#fff"/><rect x="233.82" y="254.70" width="4.51" height="9.2" fill="#fff"/><rect x="249.59" y="254.70" width="4.51" height="9.2" fill="#fff"/><rect x="265.36" y="254.70" width="4.51" height="9.2" fill="#fff"/><rect x="281.13" y="254.70" width="4.51" height="9.2" fill="#fff"/><rect x="296.90" y="254.70" width="4.51" height="9.2" fill="#fff"/><rect x="312.67" y="254.70" width="4.51" height="9.2" fill="#fff"/><rect x="328.44" y="254.70" width="4.51" height="9.2" fill="#fff"/><rect x="344.22" y="254.70" width="4.51" height="9.2" fill="#fff"/><text x="359.93" y="262.30" font-size="6.6" font-weight="bold" fill="#3a94e4" font-family="Liberation Sans">17-03-26</text><rect x="384.77" y="274.45" width="189.25" height="11.2" rx="1.8" fill="#49cbc6"/><rect x="391.53" y="275.45" width="4.51" height="9.2" fill="#fff"/><rect x="407.30" y="275.45" width="4.51" height="9.2" fill="#fff"/><rect x="423.07" y="275.45" width="4.51" height="9.2" fill="#fff"/><rect x="438.84" y="275.45" width="4.51" height="9.2" fill="#fff"/><rect x="454.61" y="275.45" width="4.51" height="9.2" fill="#fff"/><rect x="470.38" y="275.45" width="4.51" height="9.2" fill="#fff"/><rect x="486.15" y="275.45" width="4.51" height="9.2" fill="#fff"/><rect x="501.93" y="275.45" width="4.51" height="9.2" fill="#fff"/><rect x="517.70" y="275.45" width="4.51" height="9.2" fill="#fff"/><rect x="533.47" y="275.45" width="4.51" height="9.2" fill="#fff"/><rect x="549.24" y="275.45" width="4.51" height="9.2" fill="#fff"/><rect x="565.01" y="275.45" width="4.51" height="9.2" fill="#fff"/><text x="373.77" y="283.05" font-size="6.6" font-weight="bold" text-anchor="end" fill="#3a94e4" font-family="Liberation Sans">01-04-26</text><text x="580.72" y="283.05" font-size="6.6" font-weight="bold" fill="#3a94e4" font-family="Liberation Sans">23-06-26</text><rect x="589.79" y="295.20" width="126.17" height="11.2" rx="1.8" fill="#49cbc6"/><rect x="596.55" y="296.20" width="4.51" height="9.2" fill="#fff"/><rect x="612.32" y="296.20" width="4.51" height="9.2" fill="#fff"/><rect x="628.09" y="296.20" width="4.51" height="9.2" fill="#fff"/><rect x="643.87" y="296.20" width="4.51" height="9.2" fill="#fff"/><rect x="659.64" y="296.20" width="4.51" height="9.2" fill="#fff"/><rect x="675.41" y="296.20" width="4.51" height="9.2" fill="#fff"/><rect x="691.18" y="296.20" width="4.51" height="9.2" fill="#fff"/><rect x="706.95" y="296.20" width="4.51" height="9.2" fill="#fff"/><text x="578.79" y="303.80" font-size="6.6" font-weight="bold" text-anchor="end" fill="#3a94e4" font-family="Liberation Sans">01-07-26</text><text x="722.66" y="303.80" font-size="6.6" font-weight="bold" fill="#3a94e4" font-family="Liberation Sans">25-08-26</text><rect x="797.07" y="315.95" width="1162.55" height="11.2" rx="1.8" fill="#b5de80"/><rect x="801.58" y="316.95" width="4.51" height="9.2" fill="#fff"/><rect x="817.35" y="316.95" width="4.51" height="9.2" fill="#fff"/><rect x="833.12" y="316.95" width="4.51" height="9.2" fill="#fff"/><rect x="848.89" y="316.95" width="4.51" height="9.2" fill="#fff"/><rect x="864.66" y="316.95" width="4.51" height="9.2" fill="#fff"/><rect x="880.43" y="316.95" width="4.51" height="9.2" fill="#fff"/><rect x="896.20" y="316.95" width="4.51" height="9.2" fill="#fff"/><rect x="911.97" y="316.95" width="4.51" height="9.2" fill="#fff"/><rect x="927.74" y="316.95" width="4.51" height="9.2" fill="#fff"/><rect x="943.51" y="316.95" width="4.51" height="9.2" fill="#fff"/><rect x="959.28" y="316.95" width="4.51" height="9.2" fill="#fff"/><rect x="975.06" y="316.95" width="4.51" height="9.2" fill="#fff"/><rect x="990.83" y="316.95" width="4.51" height="9.2" fill="#fff"/><rect x="1006.60" y="316.95" width="4.51" height="9.2" fill="#fff"/><rect x="1022.37" y="316.95" width="4.51" height="9.2" fill="#fff"/><rect x="1038.14" y="316.95" width="4.51" height="9.2" fill="#fff"/><rect x="1053.91" y="316.95" width="4.51" height="9.2" fill="#fff"/><rect x="1069.68" y="316.95" width="4.51" height="9.2" fill="#fff"/><rect x="1085.45" y="316.95" width="4.51" height="9.2" fill="#fff"/><rect x="1101.22" y="316.95" width="4.51" height="9.2" fill="#fff"/><rect x="1116.99" y="316.95" width="4.51" height="9.2" fill="#fff"/><rect x="1132.77" y="316.95" width="4.51" height="9.2" fill="#fff"/><rect x="1148.54" y="316.95" width="4.51" height="9.2" fill="#fff"/><rect x="1164.31" y="316.95" width="4.51" height="9.2" fill="#fff"/><rect x="1180.08" y="316.95" width="4.51" height="9.2" fill="#fff"/><rect x="1195.85" y="316.95" width="4.51" height="9.2" fill="#fff"/><rect x="1211.62" y="316.95" width="4.51" height="9.2" fill="#fff"/><rect x="1227.39" y="316.95" width="4.51" height="9.2" fill="#fff"/><rect x="1243.16" y="316.95" width="4.51" height="9.2" fill="#fff"/><rect x="1258.93" y="316.95" width="4.51" height="9.2" fill="#fff"/><rect x="1274.70" y="316.95" width="4.51" height="9.2" fill="#fff"/><rect x="1290.48" y="316.95" width="4.51" height="9.2" fill="#fff"/><rect x="1306.25" y="316.95" width="4.51" height="9.2" fill="#fff"/><rect x="1322.02" y="316.95" width="4.51" height="9.2" fill="#fff"/><rect x="1337.79" y="316.95" width="4.51" height="9.2" fill="#fff"/><rect x="1353.56" y="316.95" width="4.51" height="9.2" fill="#fff"/><rect x="1369.33" y="316.95" width="4.51" height="9.2" fill="#fff"/><rect x="1385.10" y="316.95" width="4.51" height="9.2" fill="#fff"/><rect x="1400.87" y="316.95" width="4.51" height="9.2" fill="#fff"/><rect x="1416.64" y="316.95" width="4.51" height="9.2" fill="#fff"/><rect x="1432.41" y="316.95" width="4.51" height="9.2" fill="#fff"/><rect x="1448.19" y="316.95" width="4.51" height="9.2" fill="#fff"/><rect x="1463.96" y="316.95" width="4.51" height="9.2" fill="#fff"/><rect x="1479.73" y="316.95" width="4.51" height="9.2" fill="#fff"/><rect x="1495.50" y="316.95" width="4.51" height="9.2" fill="#fff"/><rect x="1511.27" y="316.95" width="4.51" height="9.2" fill="#fff"/><rect x="1527.04" y="316.95" width="4.51" height="9.2" fill="#fff"/><rect x="1542.81" y="316.95" width="4.51" height="9.2" fill="#fff"/><rect x="1558.58" y="316.95" width="4.51" height="9.2" fill="#fff"/><rect x="1574.35" y="316.95" width="4.51" height="9.2" fill="#fff"/><rect x="1590.12" y="316.95" width="4.51" height="9.2" fill="#fff"/><rect x="1605.90" y="316.95" width="4.51" height="9.2" fill="#fff"/><rect x="1621.67" y="316.95" width="4.51" height="9.2" fill="#fff"/><rect x="1637.44" y="316.95" width="4.51" height="9.2" fill="#fff"/><rect x="1653.21" y="316.95" width="4.51" height="9.2" fill="#fff"/><rect x="1668.98" y="316.95" width="4.51" height="9.2" fill="#fff"/><rect x="1684.75" y="316.95" width="4.51" height="9.2" fill="#fff"/><rect x="1700.52" y="316.95" width="4.51" height="9.2" fill="#fff"/><rect x="1716.29" y="316.95" width="4.51" height="9.2" fill="#fff"/><rect x="1732.06" y="316.95" width="4.51" height="9.2" fill="#fff"/><rect x="1747.84" y="316.95" width="4.51" height="9.2" fill="#fff"/><rect x="1763.61" y="316.95" width="4.51" height="9.2" fill="#fff"/><rect x="1779.38" y="316.95" width="4.51" height="9.2" fill="#fff"/><rect x="1795.15" y="316.95" width="4.51" height="9.2" fill="#fff"/><rect x="1810.92" y="316.95" width="4.51" height="9.2" fill="#fff"/><rect x="1826.69" y="316.95" width="4.51" height="9.2" fill="#fff"/><rect x="1842.46" y="316.95" width="4.51" height="9.2" fill="#fff"/><rect x="1858.23" y="316.95" width="4.51" height="9.2" fill="#fff"/><rect x="1874.00" y="316.95" width="4.51" height="9.2" fill="#fff"/><rect x="1889.77" y="316.95" width="4.51" height="9.2" fill="#fff"/><rect x="1905.55" y="316.95" width="4.51" height="9.2" fill="#fff"/><rect x="1921.32" y="316.95" width="4.51" height="9.2" fill="#fff"/><rect x="1937.09" y="316.95" width="4.51" height="9.2" fill="#fff"/><rect x="1952.86" y="316.95" width="4.51" height="9.2" fill="#fff"/><text x="786.07" y="324.55" font-size="6.6" font-weight="bold" text-anchor="end" fill="#3a94e4" font-family="Liberation Sans">01-10-26</text><rect x="797.07" y="336.70" width="333.44" height="11.2" rx="1.8" fill="#b5de80"/><rect x="801.58" y="337.70" width="4.51" height="9.2" fill="#fff"/><rect x="817.35" y="337.70" width="4.51" height="9.2" fill="#fff"/><rect x="833.12" y="337.70" width="4.51" height="9.2" fill="#fff"/><rect x="848.89" y="337.70" width="4.51" height="9.2" fill="#fff"/><rect x="864.66" y="337.70" width="4.51" height="9.2" fill="#fff"/><rect x="880.43" y="337.70" width="4.51" height="9.2" fill="#fff"/><rect x="896.20" y="337.70" width="4.51" height="9.2" fill="#fff"/><rect x="911.97" y="337.70" width="4.51" height="9.2" fill="#fff"/><rect x="927.74" y="337.70" width="4.51" height="9.2" fill="#fff"/><rect x="943.51" y="337.70" width="4.51" height="9.2" fill="#fff"/><rect x="959.28" y="337.70" width="4.51" height="9.2" fill="#fff"/><rect x="975.06" y="337.70" width="4.51" height="9.2" fill="#fff"/><rect x="990.83" y="337.70" width="4.51" height="9.2" fill="#fff"/><rect x="1006.60" y="337.70" width="4.51" height="9.2" fill="#fff"/><rect x="1022.37" y="337.70" width="4.51" height="9.2" fill="#fff"/><rect x="1038.14" y="337.70" width="4.51" height="9.2" fill="#fff"/><rect x="1053.91" y="337.70" width="4.51" height="9.2" fill="#fff"/><rect x="1069.68" y="337.70" width="4.51" height="9.2" fill="#fff"/><rect x="1085.45" y="337.70" width="4.51" height="9.2" fill="#fff"/><rect x="1101.22" y="337.70" width="4.51" height="9.2" fill="#fff"/><rect x="1116.99" y="337.70" width="4.51" height="9.2" fill="#fff"/><text x="786.07" y="345.30" font-size="6.6" font-weight="bold" text-anchor="end" fill="#3a94e4" font-family="Liberation Sans">01-10-26</text></svg>
</div>
<div class="a" style="left:1277.00px;top:200.70px;width:5.80px;height:73.00px;background:#c9c9c9;border-radius:3px"></div>
<div class="a" style="left:12.70px;top:467.40px;width:1269.80px;height:1.40px;background:#c8c8c8"></div>
<div class="a" style="left:12.70px;top:468.80px;width:1269.80px;height:243.20px;background:#fff"></div>
<div class="a" style="left:16.30px;top:471.80px;width:22.70px;height:9.10px;background:#c9c9c9"></div>
<div class="t" style="left:41.60px;top:476.60px;font-size:6.4px;letter-spacing:-0.4px;color:#666">工数負荷なし</div>
<div class="a" style="left:80.30px;top:471.80px;width:22.70px;height:9.10px;background:#fde3b6"></div>
<div class="t" style="left:105.00px;top:476.60px;font-size:6.4px;letter-spacing:-0.4px;color:#666">超過作業</div>
<div class="a" style="left:144.00px;top:471.80px;width:22.70px;height:9.10px;background:#d9ecef"></div>
<div class="t" style="left:169.00px;top:476.60px;font-size:6.4px;letter-spacing:-0.4px;color:#666">工数負荷あり</div>
<svg style="left:1227px;top:475.8px" width="4" height="3" viewBox="0 0 4 3"><path d="M0,0.5 H3.6 L1.8,2.6 Z" fill="#666"/></svg>
<div class="t" style="left:1234.50px;top:476.30px;font-size:7.6px;letter-spacing:-0.8px;color:#444;-webkit-text-stroke:0.2px currentColor">キャパシティ</div>
<div class="a" style="left:12.70px;top:486.20px;width:1269.80px;height:0.80px;background:#ededed"></div>
<div class="a" style="left:459.00px;top:486.60px;width:0.80px;height:12.00px;background:#ededed"></div>
<div class="a" style="left:0;top:498.3px;width:1322px;height:204.70px;overflow:hidden">
<div class="a" style="left:40.00px;top:0.00px;width:418.60px;height:16.70px;background:#d5d9f2"></div>
<div class="a" style="left:13.00px;top:0.00px;width:23.50px;height:16.70px;background:#5b6fd8"></div>
<div class="a" style="left:36.50px;top:0.00px;width:3.50px;height:16.70px;background:#7d8de0"></div>
<svg style="left:17.50px;top:6.35px" width="7" height="5" viewBox="0 0 7 5"><path d="M0.8,0.8 L3.5,3.5 L6.2,0.8" fill="none" stroke="#fff" stroke-width="1.1"/></svg>
<div class="t" style="left:41.20px;top:8.35px;font-size:7.2px;letter-spacing:-0.4px;color:#666">全社</div>
<div class="a" style="left:40.00px;top:17.70px;width:418.60px;height:16.70px;background:#d9dcf1"></div>
<div class="a" style="left:20.00px;top:17.70px;width:16.50px;height:16.70px;background:#7f8dd8"></div>
<div class="a" style="left:36.50px;top:17.70px;width:3.50px;height:16.70px;background:#9ea8e4"></div>
<svg style="left:24.00px;top:24.05px" width="7" height="5" viewBox="0 0 7 5"><path d="M0.8,0.8 L3.5,3.5 L6.2,0.8" fill="none" stroke="#fff" stroke-width="1.1"/></svg>
<div class="t" style="left:41.20px;top:26.05px;font-size:7.2px;letter-spacing:-0.4px;color:#666">エンジニアリング部</div>
<div class="a" style="left:40.00px;top:35.40px;width:418.60px;height:16.70px;background:#dbe0fc"></div>
<div class="a" style="left:27.00px;top:35.40px;width:9.50px;height:16.70px;background:#7087f5"></div>
<div class="a" style="left:36.50px;top:35.40px;width:3.50px;height:16.70px;background:#98a8f8"></div>
<svg style="left:30.00px;top:40.75px" width="5" height="7" viewBox="0 0 5 7"><path d="M0.8,0.8 L3.5,3.5 L0.8,6.2" fill="none" stroke="#fff" stroke-width="1.1"/></svg>
<div class="t" style="left:41.20px;top:43.75px;font-size:7.2px;letter-spacing:-0.4px;color:#666">車両設計担当</div>
<div class="a" style="left:40.00px;top:53.10px;width:418.60px;height:16.70px;background:#dbe0fc"></div>
<div class="a" style="left:27.00px;top:53.10px;width:9.50px;height:16.70px;background:#7087f5"></div>
<div class="a" style="left:36.50px;top:53.10px;width:3.50px;height:16.70px;background:#98a8f8"></div>
<svg style="left:30.00px;top:58.45px" width="5" height="7" viewBox="0 0 5 7"><path d="M0.8,0.8 L3.5,3.5 L0.8,6.2" fill="none" stroke="#fff" stroke-width="1.1"/></svg>
<div class="t" style="left:41.20px;top:61.45px;font-size:7.2px;letter-spacing:-0.4px;color:#666">車両設計リーダー</div>
<div class="a" style="left:40.00px;top:70.80px;width:418.60px;height:16.70px;background:#dbe0fc"></div>
<div class="a" style="left:27.00px;top:70.80px;width:9.50px;height:16.70px;background:#7087f5"></div>
<div class="a" style="left:36.50px;top:70.80px;width:3.50px;height:16.70px;background:#98a8f8"></div>
<svg style="left:30.00px;top:76.15px" width="5" height="7" viewBox="0 0 5 7"><path d="M0.8,0.8 L3.5,3.5 L0.8,6.2" fill="none" stroke="#fff" stroke-width="1.1"/></svg>
<div class="t" style="left:41.20px;top:79.15px;font-size:7.2px;letter-spacing:-0.4px;color:#666">シャーシ設計担当</div>
<div class="a" style="left:40.00px;top:88.50px;width:418.60px;height:16.70px;background:#dbe0fc"></div>
<div class="a" style="left:27.00px;top:88.50px;width:9.50px;height:16.70px;background:#7087f5"></div>
<div class="a" style="left:36.50px;top:88.50px;width:3.50px;height:16.70px;background:#98a8f8"></div>
<svg style="left:30.00px;top:93.85px" width="5" height="7" viewBox="0 0 5 7"><path d="M0.8,0.8 L3.5,3.5 L0.8,6.2" fill="none" stroke="#fff" stroke-width="1.1"/></svg>
<div class="t" style="left:41.20px;top:96.85px;font-size:7.2px;letter-spacing:-0.4px;color:#666">パワートレイン担当</div>
<div class="a" style="left:40.00px;top:106.20px;width:418.60px;height:16.70px;background:#dbe0fc"></div>
<div class="a" style="left:27.00px;top:106.20px;width:9.50px;height:16.70px;background:#7087f5"></div>
<div class="a" style="left:36.50px;top:106.20px;width:3.50px;height:16.70px;background:#98a8f8"></div>
<svg style="left:30.00px;top:111.55px" width="5" height="7" viewBox="0 0 5 7"><path d="M0.8,0.8 L3.5,3.5 L0.8,6.2" fill="none" stroke="#fff" stroke-width="1.1"/></svg>
<div class="t" style="left:41.20px;top:114.55px;font-size:7.2px;letter-spacing:-0.4px;color:#666">サスペンション担当</div>
<div class="a" style="left:40.00px;top:123.90px;width:418.60px;height:16.70px;background:#dbe0fc"></div>
<div class="a" style="left:27.00px;top:123.90px;width:9.50px;height:16.70px;background:#7087f5"></div>
<div class="a" style="left:36.50px;top:123.90px;width:3.50px;height:16.70px;background:#98a8f8"></div>
<svg style="left:30.00px;top:129.25px" width="5" height="7" viewBox="0 0 5 7"><path d="M0.8,0.8 L3.5,3.5 L0.8,6.2" fill="none" stroke="#fff" stroke-width="1.1"/></svg>
<div class="t" style="left:41.20px;top:132.25px;font-size:7.2px;letter-spacing:-0.4px;color:#666">電気システム担当</div>
<div class="a" style="left:40.00px;top:141.60px;width:418.60px;height:16.70px;background:#dbe0fc"></div>
<div class="a" style="left:27.00px;top:141.60px;width:9.50px;height:16.70px;background:#7087f5"></div>
<div class="a" style="left:36.50px;top:141.60px;width:3.50px;height:16.70px;background:#98a8f8"></div>
<svg style="left:30.00px;top:146.95px" width="5" height="7" viewBox="0 0 5 7"><path d="M0.8,0.8 L3.5,3.5 L0.8,6.2" fill="none" stroke="#fff" stroke-width="1.1"/></svg>
<div class="t" style="left:41.20px;top:149.95px;font-size:7.2px;letter-spacing:-0.4px;color:#666">ソフトウェア担当</div>
<div class="a" style="left:40.00px;top:159.30px;width:418.60px;height:16.70px;background:#dbe0fc"></div>
<div class="a" style="left:27.00px;top:159.30px;width:9.50px;height:16.70px;background:#7087f5"></div>
<div class="a" style="left:36.50px;top:159.30px;width:3.50px;height:16.70px;background:#98a8f8"></div>
<svg style="left:29.00px;top:165.65px" width="7" height="5" viewBox="0 0 7 5"><path d="M0.8,0.8 L3.5,3.5 L6.2,0.8" fill="none" stroke="#fff" stroke-width="1.1"/></svg>
<div class="t" style="left:41.20px;top:167.65px;font-size:7.2px;letter-spacing:-0.4px;color:#666">空力解析担当</div>
<div class="a" style="left:40.00px;top:195.70px;width:418.60px;height:16.70px;background:#dbe0fc"></div>
<div class="a" style="left:27.00px;top:195.70px;width:9.50px;height:16.70px;background:#7087f5"></div>
<div class="a" style="left:36.50px;top:195.70px;width:3.50px;height:16.70px;background:#98a8f8"></div>
<svg style="left:29.00px;top:202.05px" width="7" height="5" viewBox="0 0 7 5"><path d="M0.8,0.8 L3.5,3.5 L6.2,0.8" fill="none" stroke="#fff" stroke-width="1.1"/></svg>
<div class="t" style="left:41.20px;top:204.05px;font-size:7.2px;letter-spacing:-0.4px;color:#666">安全技術担当</div>
<div class="a" style="left:13.40px;top:17.70px;width:1.00px;height:300.00px;background:#6d80e8"></div>
<div class="a" style="left:20.30px;top:35.40px;width:1.00px;height:300.00px;background:#8d9cee"></div>
<div class="a" style="left:27.00px;top:177.00px;width:1.00px;height:18.70px;background:#98a8f8"></div>
<div class="a" style="left:459.9px;top:0;width:814.00px;height:204.70px;overflow:hidden;background:#fff">
<div class="a" style="left:0;top:0.00px;width:820px;height:17.70px;background:#ececec"></div>
<div class="a" style="left:0;top:17.70px;width:820px;height:17.70px;background:#ececec"></div>
<div class="a" style="left:0;top:35.40px;width:820px;height:17.70px;background:#ececec"></div>
<div class="a" style="left:0;top:53.10px;width:820px;height:17.70px;background:#ececec"></div>
<div class="a" style="left:0;top:70.80px;width:820px;height:17.70px;background:#ececec"></div>
<div class="a" style="left:0;top:88.50px;width:820px;height:17.70px;background:#ececec"></div>
<div class="a" style="left:0;top:106.20px;width:820px;height:17.70px;background:#ececec"></div>
<div class="a" style="left:0;top:123.90px;width:820px;height:17.70px;background:#ececec"></div>
<div class="a" style="left:0;top:141.60px;width:820px;height:17.70px;background:#ececec"></div>
<div class="a" style="left:0;top:159.30px;width:820px;height:17.70px;background:#ececec"></div>
<div class="a" style="left:0;top:195.70px;width:820px;height:17.70px;background:#ececec"></div>
<div class="a" style="left:-24.68px;top:0.00px;width:68.84px;height:16.70px;background:#d9ecef"></div>
<div class="c" style="left:9.75px;top:8.55px;font-size:6.7px;color:#222;-webkit-text-stroke:0.2px currentColor">1,587.0</div>
<div class="a" style="left:45.17px;top:0.00px;width:66.59px;height:16.70px;background:#d9ecef"></div>
<div class="c" style="left:78.46px;top:8.55px;font-size:6.7px;color:#222;-webkit-text-stroke:0.2px currentColor">1,380.0</div>
<div class="a" style="left:112.76px;top:0.00px;width:68.84px;height:16.70px;background:#d9ecef"></div>
<div class="c" style="left:147.18px;top:8.55px;font-size:6.7px;color:#222;-webkit-text-stroke:0.2px currentColor">1,617.0</div>
<div class="a" style="left:182.60px;top:0.00px;width:68.84px;height:16.70px;background:#d9ecef"></div>
<div class="c" style="left:217.02px;top:8.55px;font-size:6.7px;color:#222;-webkit-text-stroke:0.2px currentColor">1,520.0</div>
<div class="a" style="left:252.44px;top:0.00px;width:62.08px;height:16.70px;background:#d9ecef"></div>
<div class="c" style="left:283.49px;top:8.55px;font-size:6.7px;color:#222;-webkit-text-stroke:0.2px currentColor">1,380.0</div>
<div class="a" style="left:315.53px;top:0.00px;width:68.84px;height:16.70px;background:#d9ecef"></div>
<div class="c" style="left:349.95px;top:8.55px;font-size:6.7px;color:#222;-webkit-text-stroke:0.2px currentColor">1,528.0</div>
<div class="a" style="left:385.37px;top:0.00px;width:66.59px;height:16.70px;background:#d9ecef"></div>
<div class="c" style="left:418.67px;top:8.55px;font-size:6.7px;color:#222;-webkit-text-stroke:0.2px currentColor">1,514.0</div>
<div class="a" style="left:452.96px;top:0.00px;width:68.84px;height:16.70px;background:#d9ecef"></div>
<div class="c" style="left:487.38px;top:8.55px;font-size:6.7px;color:#222;-webkit-text-stroke:0.2px currentColor">1,428.0</div>
<div class="a" style="left:522.80px;top:0.00px;width:66.59px;height:16.70px;background:#d9ecef"></div>
<div class="c" style="left:556.10px;top:8.55px;font-size:6.7px;color:#222;-webkit-text-stroke:0.2px currentColor">1,515.0</div>
<div class="a" style="left:590.39px;top:0.00px;width:68.84px;height:16.70px;background:#d9ecef"></div>
<div class="c" style="left:624.81px;top:8.55px;font-size:6.7px;color:#222;-webkit-text-stroke:0.2px currentColor">1,610.0</div>
<div class="a" style="left:660.24px;top:0.00px;width:68.84px;height:16.70px;background:#d9ecef"></div>
<div class="c" style="left:694.66px;top:8.55px;font-size:6.7px;color:#222;-webkit-text-stroke:0.2px currentColor">1,474.0</div>
<div class="a" style="left:730.08px;top:0.00px;width:66.59px;height:16.70px;background:#d3d3d3"></div>
<div class="c" style="left:763.37px;top:8.55px;font-size:6.7px;color:#222;-webkit-text-stroke:0.2px currentColor">1,562.0</div>
<div class="a" style="left:797.67px;top:0.00px;width:68.84px;height:16.70px;background:#d3d3d3"></div>
<div class="a" style="left:-24.68px;top:17.70px;width:68.84px;height:16.70px;background:#fde3b6"></div>
<div class="c" style="left:9.75px;top:26.25px;font-size:6.7px;color:#222;-webkit-text-stroke:0.2px currentColor">-115.0</div>
<div class="a" style="left:45.17px;top:17.70px;width:66.59px;height:16.70px;background:#fde3b6"></div>
<div class="c" style="left:78.46px;top:26.25px;font-size:6.7px;color:#222;-webkit-text-stroke:0.2px currentColor">-100.0</div>
<div class="a" style="left:112.76px;top:17.70px;width:68.84px;height:16.70px;background:#fde3b6"></div>
<div class="c" style="left:147.18px;top:26.25px;font-size:6.7px;color:#222;-webkit-text-stroke:0.2px currentColor">-85.0</div>
<div class="a" style="left:182.60px;top:17.70px;width:68.84px;height:16.70px;background:#fde3b6"></div>
<div class="c" style="left:217.02px;top:26.25px;font-size:6.7px;color:#222;-webkit-text-stroke:0.2px currentColor">-20.0</div>
<div class="a" style="left:252.44px;top:17.70px;width:62.08px;height:16.70px;background:#fde3b6"></div>
<div class="c" style="left:283.49px;top:26.25px;font-size:6.7px;color:#222;-webkit-text-stroke:0.2px currentColor">-20.0</div>
<div class="a" style="left:315.53px;top:17.70px;width:68.84px;height:16.70px;background:#fde3b6"></div>
<div class="c" style="left:349.95px;top:26.25px;font-size:6.7px;color:#222;-webkit-text-stroke:0.2px currentColor">-22.0</div>
<div class="a" style="left:385.37px;top:17.70px;width:66.59px;height:16.70px;background:#fde3b6"></div>
<div class="c" style="left:418.67px;top:26.25px;font-size:6.7px;color:#222;-webkit-text-stroke:0.2px currentColor">-26.0</div>
<div class="a" style="left:452.96px;top:17.70px;width:68.84px;height:16.70px;background:#fde3b6"></div>
<div class="c" style="left:487.38px;top:26.25px;font-size:6.7px;color:#222;-webkit-text-stroke:0.2px currentColor">-42.0</div>
<div class="a" style="left:522.80px;top:17.70px;width:66.59px;height:16.70px;background:#fde3b6"></div>
<div class="c" style="left:556.10px;top:26.25px;font-size:6.7px;color:#222;-webkit-text-stroke:0.2px currentColor">-30.0</div>
<div class="a" style="left:590.39px;top:17.70px;width:68.84px;height:16.70px;background:#fde3b6"></div>
<div class="c" style="left:624.81px;top:26.25px;font-size:6.7px;color:#222;-webkit-text-stroke:0.2px currentColor">-23.0</div>
<div class="a" style="left:660.24px;top:17.70px;width:68.84px;height:16.70px;background:#fde3b6"></div>
<div class="c" style="left:694.66px;top:26.25px;font-size:6.7px;color:#222;-webkit-text-stroke:0.2px currentColor">-17.0</div>
<div class="a" style="left:730.08px;top:17.70px;width:66.59px;height:16.70px;background:#d3d3d3"></div>
<div class="a" style="left:797.67px;top:17.70px;width:68.84px;height:16.70px;background:#d3d3d3"></div>
<div class="a" style="left:-24.68px;top:35.40px;width:68.84px;height:16.70px;background:#d3d3d3"></div>
<div class="a" style="left:45.17px;top:35.40px;width:66.59px;height:16.70px;background:#d3d3d3"></div>
<div class="a" style="left:112.76px;top:35.40px;width:68.84px;height:16.70px;background:#d3d3d3"></div>
<div class="a" style="left:182.60px;top:35.40px;width:68.84px;height:16.70px;background:#d3d3d3"></div>
<div class="a" style="left:252.44px;top:35.40px;width:62.08px;height:16.70px;background:#d3d3d3"></div>
<div class="a" style="left:315.53px;top:35.40px;width:68.84px;height:16.70px;background:#d3d3d3"></div>
<div class="a" style="left:385.37px;top:35.40px;width:66.59px;height:16.70px;background:#d3d3d3"></div>
<div class="a" style="left:452.96px;top:35.40px;width:68.84px;height:16.70px;background:#d3d3d3"></div>
<div class="a" style="left:522.80px;top:35.40px;width:66.59px;height:16.70px;background:#d3d3d3"></div>
<div class="a" style="left:590.39px;top:35.40px;width:68.84px;height:16.70px;background:#d3d3d3"></div>
<div class="a" style="left:660.24px;top:35.40px;width:68.84px;height:16.70px;background:#d3d3d3"></div>
<div class="a" style="left:730.08px;top:35.40px;width:66.59px;height:16.70px;background:#d3d3d3"></div>
<div class="a" style="left:797.67px;top:35.40px;width:68.84px;height:16.70px;background:#d3d3d3"></div>
<div class="a" style="left:-24.68px;top:53.10px;width:68.84px;height:16.70px;background:#d3d3d3"></div>
<div class="a" style="left:45.17px;top:53.10px;width:66.59px;height:16.70px;background:#d3d3d3"></div>
<div class="a" style="left:112.76px;top:53.10px;width:68.84px;height:16.70px;background:#d3d3d3"></div>
<div class="a" style="left:182.60px;top:53.10px;width:68.84px;height:16.70px;background:#d3d3d3"></div>
<div class="a" style="left:252.44px;top:53.10px;width:62.08px;height:16.70px;background:#d3d3d3"></div>
<div class="a" style="left:315.53px;top:53.10px;width:68.84px;height:16.70px;background:#d3d3d3"></div>
<div class="a" style="left:385.37px;top:53.10px;width:66.59px;height:16.70px;background:#d3d3d3"></div>
<div class="a" style="left:452.96px;top:53.10px;width:68.84px;height:16.70px;background:#d3d3d3"></div>
<div class="a" style="left:522.80px;top:53.10px;width:66.59px;height:16.70px;background:#d3d3d3"></div>
<div class="a" style="left:590.39px;top:53.10px;width:68.84px;height:16.70px;background:#fde3b6"></div>
<div class="c" style="left:624.81px;top:61.65px;font-size:6.7px;color:#222;-webkit-text-stroke:0.2px currentColor">-23.0</div>
<div class="a" style="left:660.24px;top:53.10px;width:68.84px;height:16.70px;background:#fde3b6"></div>
<div class="c" style="left:694.66px;top:61.65px;font-size:6.7px;color:#222;-webkit-text-stroke:0.2px currentColor">-17.0</div>
<div class="a" style="left:730.08px;top:53.10px;width:66.59px;height:16.70px;background:#d3d3d3"></div>
<div class="a" style="left:797.67px;top:53.10px;width:68.84px;height:16.70px;background:#d3d3d3"></div>
<div class="a" style="left:-24.68px;top:70.80px;width:68.84px;height:16.70px;background:#fde3b6"></div>
<div class="c" style="left:9.75px;top:79.35px;font-size:6.7px;color:#222;-webkit-text-stroke:0.2px currentColor">-23.0</div>
<div class="a" style="left:45.17px;top:70.80px;width:66.59px;height:16.70px;background:#fde3b6"></div>
<div class="c" style="left:78.46px;top:79.35px;font-size:6.7px;color:#222;-webkit-text-stroke:0.2px currentColor">-20.0</div>
<div class="a" style="left:112.76px;top:70.80px;width:68.84px;height:16.70px;background:#fde3b6"></div>
<div class="c" style="left:147.18px;top:79.35px;font-size:6.7px;color:#222;-webkit-text-stroke:0.2px currentColor">-17.0</div>
<div class="a" style="left:182.60px;top:70.80px;width:68.84px;height:16.70px;background:#d3d3d3"></div>
<div class="a" style="left:252.44px;top:70.80px;width:62.08px;height:16.70px;background:#d3d3d3"></div>
<div class="a" style="left:315.53px;top:70.80px;width:68.84px;height:16.70px;background:#d3d3d3"></div>
<div class="a" style="left:385.37px;top:70.80px;width:66.59px;height:16.70px;background:#d3d3d3"></div>
<div class="a" style="left:452.96px;top:70.80px;width:68.84px;height:16.70px;background:#d3d3d3"></div>
<div class="a" style="left:522.80px;top:70.80px;width:66.59px;height:16.70px;background:#d3d3d3"></div>
<div class="a" style="left:590.39px;top:70.80px;width:68.84px;height:16.70px;background:#d3d3d3"></div>
<div class="a" style="left:660.24px;top:70.80px;width:68.84px;height:16.70px;background:#d3d3d3"></div>
<div class="a" style="left:730.08px;top:70.80px;width:66.59px;height:16.70px;background:#d3d3d3"></div>
<div class="a" style="left:797.67px;top:70.80px;width:68.84px;height:16.70px;background:#d3d3d3"></div>
<div class="a" style="left:-24.68px;top:88.50px;width:68.84px;height:16.70px;background:#fde3b6"></div>
<div class="c" style="left:9.75px;top:97.05px;font-size:6.7px;color:#222;-webkit-text-stroke:0.2px currentColor">-23.0</div>
<div class="a" style="left:45.17px;top:88.50px;width:66.59px;height:16.70px;background:#fde3b6"></div>
<div class="c" style="left:78.46px;top:97.05px;font-size:6.7px;color:#222;-webkit-text-stroke:0.2px currentColor">-20.0</div>
<div class="a" style="left:112.76px;top:88.50px;width:68.84px;height:16.70px;background:#fde3b6"></div>
<div class="c" style="left:147.18px;top:97.05px;font-size:6.7px;color:#222;-webkit-text-stroke:0.2px currentColor">-17.0</div>
<div class="a" style="left:182.60px;top:88.50px;width:68.84px;height:16.70px;background:#d3d3d3"></div>
<div class="a" style="left:252.44px;top:88.50px;width:62.08px;height:16.70px;background:#d3d3d3"></div>
<div class="a" style="left:315.53px;top:88.50px;width:68.84px;height:16.70px;background:#d3d3d3"></div>
<div class="a" style="left:385.37px;top:88.50px;width:66.59px;height:16.70px;background:#d3d3d3"></div>
<div class="a" style="left:452.96px;top:88.50px;width:68.84px;height:16.70px;background:#d3d3d3"></div>
<div class="a" style="left:522.80px;top:88.50px;width:66.59px;height:16.70px;background:#d3d3d3"></div>
<div class="a" style="left:590.39px;top:88.50px;width:68.84px;height:16.70px;background:#d3d3d3"></div>
<div class="a" style="left:660.24px;top:88.50px;width:68.84px;height:16.70px;background:#d3d3d3"></div>
<div class="a" style="left:730.08px;top:88.50px;width:66.59px;height:16.70px;background:#d3d3d3"></div>
<div class="a" style="left:797.67px;top:88.50px;width:68.84px;height:16.70px;background:#d3d3d3"></div>
<div class="a" style="left:-24.68px;top:106.20px;width:68.84px;height:16.70px;background:#fde3b6"></div>
<div class="c" style="left:9.75px;top:114.75px;font-size:6.7px;color:#222;-webkit-text-stroke:0.2px currentColor">-23.0</div>
<div class="a" style="left:45.17px;top:106.20px;width:66.59px;height:16.70px;background:#fde3b6"></div>
<div class="c" style="left:78.46px;top:114.75px;font-size:6.7px;color:#222;-webkit-text-stroke:0.2px currentColor">-20.0</div>
<div class="a" style="left:112.76px;top:106.20px;width:68.84px;height:16.70px;background:#fde3b6"></div>
<div class="c" style="left:147.18px;top:114.75px;font-size:6.7px;color:#222;-webkit-text-stroke:0.2px currentColor">-17.0</div>
<div class="a" style="left:182.60px;top:106.20px;width:68.84px;height:16.70px;background:#d3d3d3"></div>
<div class="a" style="left:252.44px;top:106.20px;width:62.08px;height:16.70px;background:#d3d3d3"></div>
<div class="a" style="left:315.53px;top:106.20px;width:68.84px;height:16.70px;background:#d3d3d3"></div>
<div class="a" style="left:385.37px;top:106.20px;width:66.59px;height:16.70px;background:#d3d3d3"></div>
<div class="a" style="left:452.96px;top:106.20px;width:68.84px;height:16.70px;background:#d3d3d3"></div>
<div class="a" style="left:522.80px;top:106.20px;width:66.59px;height:16.70px;background:#d3d3d3"></div>
<div class="a" style="left:590.39px;top:106.20px;width:68.84px;height:16.70px;background:#d3d3d3"></div>
<div class="a" style="left:660.24px;top:106.20px;width:68.84px;height:16.70px;background:#d3d3d3"></div>
<div class="a" style="left:730.08px;top:106.20px;width:66.59px;height:16.70px;background:#d3d3d3"></div>
<div class="a" style="left:797.67px;top:106.20px;width:68.84px;height:16.70px;background:#d3d3d3"></div>
<div class="a" style="left:-24.68px;top:123.90px;width:68.84px;height:16.70px;background:#fde3b6"></div>
<div class="c" style="left:9.75px;top:132.45px;font-size:6.7px;color:#222;-webkit-text-stroke:0.2px currentColor">-23.0</div>
<div class="a" style="left:45.17px;top:123.90px;width:66.59px;height:16.70px;background:#fde3b6"></div>
<div class="c" style="left:78.46px;top:132.45px;font-size:6.7px;color:#222;-webkit-text-stroke:0.2px currentColor">-20.0</div>
<div class="a" style="left:112.76px;top:123.90px;width:68.84px;height:16.70px;background:#fde3b6"></div>
<div class="c" style="left:147.18px;top:132.45px;font-size:6.7px;color:#222;-webkit-text-stroke:0.2px currentColor">-17.0</div>
<div class="a" style="left:182.60px;top:123.90px;width:68.84px;height:16.70px;background:#d3d3d3"></div>
<div class="a" style="left:252.44px;top:123.90px;width:62.08px;height:16.70px;background:#d3d3d3"></div>
<div class="a" style="left:315.53px;top:123.90px;width:68.84px;height:16.70px;background:#d3d3d3"></div>
<div class="a" style="left:385.37px;top:123.90px;width:66.59px;height:16.70px;background:#d3d3d3"></div>
<div class="a" style="left:452.96px;top:123.90px;width:68.84px;height:16.70px;background:#d3d3d3"></div>
<div class="a" style="left:522.80px;top:123.90px;width:66.59px;height:16.70px;background:#d3d3d3"></div>
<div class="a" style="left:590.39px;top:123.90px;width:68.84px;height:16.70px;background:#d3d3d3"></div>
<div class="a" style="left:660.24px;top:123.90px;width:68.84px;height:16.70px;background:#d3d3d3"></div>
<div class="a" style="left:730.08px;top:123.90px;width:66.59px;height:16.70px;background:#d3d3d3"></div>
<div class="a" style="left:797.67px;top:123.90px;width:68.84px;height:16.70px;background:#d3d3d3"></div>
<div class="a" style="left:-24.68px;top:141.60px;width:68.84px;height:16.70px;background:#fde3b6"></div>
<div class="c" style="left:9.75px;top:150.15px;font-size:6.7px;color:#222;-webkit-text-stroke:0.2px currentColor">-23.0</div>
<div class="a" style="left:45.17px;top:141.60px;width:66.59px;height:16.70px;background:#fde3b6"></div>
<div class="c" style="left:78.46px;top:150.15px;font-size:6.7px;color:#222;-webkit-text-stroke:0.2px currentColor">-20.0</div>
<div class="a" style="left:112.76px;top:141.60px;width:68.84px;height:16.70px;background:#fde3b6"></div>
<div class="c" style="left:147.18px;top:150.15px;font-size:6.7px;color:#222;-webkit-text-stroke:0.2px currentColor">-17.0</div>
<div class="a" style="left:182.60px;top:141.60px;width:68.84px;height:16.70px;background:#d3d3d3"></div>
<div class="a" style="left:252.44px;top:141.60px;width:62.08px;height:16.70px;background:#d3d3d3"></div>
<div class="a" style="left:315.53px;top:141.60px;width:68.84px;height:16.70px;background:#d3d3d3"></div>
<div class="a" style="left:385.37px;top:141.60px;width:66.59px;height:16.70px;background:#d3d3d3"></div>
<div class="a" style="left:452.96px;top:141.60px;width:68.84px;height:16.70px;background:#d3d3d3"></div>
<div class="a" style="left:522.80px;top:141.60px;width:66.59px;height:16.70px;background:#d3d3d3"></div>
<div class="a" style="left:590.39px;top:141.60px;width:68.84px;height:16.70px;background:#d3d3d3"></div>
<div class="a" style="left:660.24px;top:141.60px;width:68.84px;height:16.70px;background:#d3d3d3"></div>
<div class="a" style="left:730.08px;top:141.60px;width:66.59px;height:16.70px;background:#d3d3d3"></div>
<div class="a" style="left:797.67px;top:141.60px;width:68.84px;height:16.70px;background:#d3d3d3"></div>
<div class="a" style="left:-24.68px;top:159.30px;width:68.84px;height:16.70px;background:#d3d3d3"></div>
<div class="a" style="left:45.17px;top:159.30px;width:66.59px;height:16.70px;background:#d3d3d3"></div>
<div class="a" style="left:112.76px;top:159.30px;width:68.84px;height:16.70px;background:#d3d3d3"></div>
<div class="a" style="left:182.60px;top:159.30px;width:68.84px;height:16.70px;background:#fde3b6"></div>
<div class="c" style="left:217.02px;top:167.85px;font-size:6.7px;color:#222;-webkit-text-stroke:0.2px currentColor">-20.0</div>
<div class="a" style="left:252.44px;top:159.30px;width:62.08px;height:16.70px;background:#fde3b6"></div>
<div class="c" style="left:283.49px;top:167.85px;font-size:6.7px;color:#222;-webkit-text-stroke:0.2px currentColor">-20.0</div>
<div class="a" style="left:315.53px;top:159.30px;width:68.84px;height:16.70px;background:#d3d3d3"></div>
<div class="a" style="left:385.37px;top:159.30px;width:66.59px;height:16.70px;background:#d3d3d3"></div>
<div class="a" style="left:452.96px;top:159.30px;width:68.84px;height:16.70px;background:#d3d3d3"></div>
<div class="a" style="left:522.80px;top:159.30px;width:66.59px;height:16.70px;background:#d3d3d3"></div>
<div class="a" style="left:590.39px;top:159.30px;width:68.84px;height:16.70px;background:#d3d3d3"></div>
<div class="a" style="left:660.24px;top:159.30px;width:68.84px;height:16.70px;background:#d3d3d3"></div>
<div class="a" style="left:730.08px;top:159.30px;width:66.59px;height:16.70px;background:#d3d3d3"></div>
<div class="a" style="left:797.67px;top:159.30px;width:68.84px;height:16.70px;background:#d3d3d3"></div>
<div class="a" style="left:-24.68px;top:195.70px;width:68.84px;height:16.70px;background:#d3d3d3"></div>
<div class="a" style="left:45.17px;top:195.70px;width:66.59px;height:16.70px;background:#d3d3d3"></div>
<div class="a" style="left:112.76px;top:195.70px;width:68.84px;height:16.70px;background:#d3d3d3"></div>
<div class="a" style="left:182.60px;top:195.70px;width:68.84px;height:16.70px;background:#d3d3d3"></div>
<div class="a" style="left:252.44px;top:195.70px;width:62.08px;height:16.70px;background:#d3d3d3"></div>
<div class="a" style="left:315.53px;top:195.70px;width:68.84px;height:16.70px;background:#fde3b6"></div>
<div class="c" style="left:349.95px;top:204.25px;font-size:6.7px;color:#222;-webkit-text-stroke:0.2px currentColor">-22.0</div>
<div class="a" style="left:385.37px;top:195.70px;width:66.59px;height:16.70px;background:#fde3b6"></div>
<div class="c" style="left:418.67px;top:204.25px;font-size:6.7px;color:#222;-webkit-text-stroke:0.2px currentColor">-18.0</div>
<div class="a" style="left:452.96px;top:195.70px;width:68.84px;height:16.70px;background:#d3d3d3"></div>
<div class="a" style="left:522.80px;top:195.70px;width:66.59px;height:16.70px;background:#d3d3d3"></div>
<div class="a" style="left:590.39px;top:195.70px;width:68.84px;height:16.70px;background:#d3d3d3"></div>
<div class="a" style="left:660.24px;top:195.70px;width:68.84px;height:16.70px;background:#d3d3d3"></div>
<div class="a" style="left:730.08px;top:195.70px;width:66.59px;height:16.70px;background:#d3d3d3"></div>
<div class="a" style="left:797.67px;top:195.70px;width:68.84px;height:16.70px;background:#d3d3d3"></div>
<div class="t" style="left:190.60px;top:182.00px;font-size:6.9px;letter-spacing:-0.2px;color:#333">空力解析担当 空力解析 工数負荷 : 40.0</div>
<div class="a" style="left:190.60px;top:186.70px;width:122.5px;height:7px;border:1px solid #9a9a9a;background:repeating-linear-gradient(135deg,#bdbdbd 0 1px,#e6e6e6 1px 2.5px)"></div>
</div>
</div>
<div class="a" style="left:459.90px;top:703.00px;width:814.00px;height:9.00px;background:#f3f3f3"></div>
<div class="a" style="left:586.80px;top:706.80px;width:114.90px;height:5.20px;background:#c9c9c9;border-radius:3px"></div>
<div class="a" style="left:1276.40px;top:498.70px;width:6.10px;height:64.70px;background:#c9c9c9;border-radius:3px"></div>
</body></html>
